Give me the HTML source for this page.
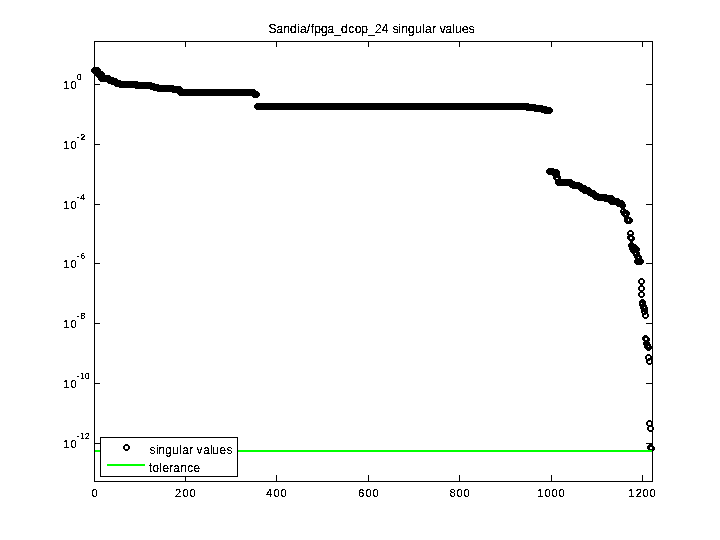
<!DOCTYPE html>
<html><head><meta charset="utf-8"><title>Sandia/fpga_dcop_24 singular values</title>
<style>html,body{margin:0;padding:0;background:#fff;width:720px;height:540px;overflow:hidden}svg{display:block}</style>
</head><body>
<svg width="720" height="540" viewBox="0 0 720 540" shape-rendering="crispEdges">
<rect x="0" y="0" width="720" height="540" fill="#fff"/>
<path d="M119 81 122 81 122 82 123 82 123 83 124 83 124 86 123 86 123 87 122 87 122 88 119 88 119 87 118 87 118 86 117 86 117 83 118 83 118 82 119 82ZM119 83V86H122V83ZM120 81 123 81 123 82 124 82 124 83 125 83 125 86 124 86 124 87 123 87 123 88 120 88 120 87 119 87 119 86 118 86 118 83 119 83 119 82 120 82ZM120 83V86H123V83ZM121 81 124 81 124 82 125 82 125 83 126 83 126 86 125 86 125 87 124 87 124 88 121 88 121 87 120 87 120 86 119 86 119 83 120 83 120 82 121 82ZM121 83V86H124V83ZM122 81 125 81 125 82 126 82 126 83 127 83 127 86 126 86 126 87 125 87 125 88 122 88 122 87 121 87 121 86 120 86 120 83 121 83 121 82 122 82ZM122 83V86H125V83ZM123 81 126 81 126 82 127 82 127 83 128 83 128 86 127 86 127 87 126 87 126 88 123 88 123 87 122 87 122 86 121 86 121 83 122 83 122 82 123 82ZM123 83V86H126V83ZM124 81 127 81 127 82 128 82 128 83 129 83 129 86 128 86 128 87 127 87 127 88 124 88 124 87 123 87 123 86 122 86 122 83 123 83 123 82 124 82ZM124 83V86H127V83ZM125 81 128 81 128 82 129 82 129 83 130 83 130 86 129 86 129 87 128 87 128 88 125 88 125 87 124 87 124 86 123 86 123 83 124 83 124 82 125 82ZM125 83V86H128V83ZM126 81 129 81 129 82 130 82 130 83 131 83 131 86 130 86 130 87 129 87 129 88 126 88 126 87 125 87 125 86 124 86 124 83 125 83 125 82 126 82ZM126 83V86H129V83ZM127 81 130 81 130 82 131 82 131 83 132 83 132 86 131 86 131 87 130 87 130 88 127 88 127 87 126 87 126 86 125 86 125 83 126 83 126 82 127 82ZM127 83V86H130V83ZM128 81 131 81 131 82 132 82 132 83 133 83 133 86 132 86 132 87 131 87 131 88 128 88 128 87 127 87 127 86 126 86 126 83 127 83 127 82 128 82ZM128 83V86H131V83ZM129 81 132 81 132 82 133 82 133 83 134 83 134 86 133 86 133 87 132 87 132 88 129 88 129 87 128 87 128 86 127 86 127 83 128 83 128 82 129 82ZM129 83V86H132V83ZM130 81 133 81 133 82 134 82 134 83 135 83 135 86 134 86 134 87 133 87 133 88 130 88 130 87 129 87 129 86 128 86 128 83 129 83 129 82 130 82ZM130 83V86H133V83ZM131 81 134 81 134 82 135 82 135 83 136 83 136 86 135 86 135 87 134 87 134 88 131 88 131 87 130 87 130 86 129 86 129 83 130 83 130 82 131 82ZM131 83V86H134V83ZM132 81 135 81 135 82 136 82 136 83 137 83 137 86 136 86 136 87 135 87 135 88 132 88 132 87 131 87 131 86 130 86 130 83 131 83 131 82 132 82ZM132 83V86H135V83ZM133 81 136 81 136 82 137 82 137 83 138 83 138 86 137 86 137 87 136 87 136 88 133 88 133 87 132 87 132 86 131 86 131 83 132 83 132 82 133 82ZM133 83V86H136V83ZM134 81 137 81 137 82 138 82 138 83 139 83 139 86 138 86 138 87 137 87 137 88 134 88 134 87 133 87 133 86 132 86 132 83 133 83 133 82 134 82ZM134 83V86H137V83ZM135 81 138 81 138 82 139 82 139 83 140 83 140 86 139 86 139 87 138 87 138 88 135 88 135 87 134 87 134 86 133 86 133 83 134 83 134 82 135 82ZM135 83V86H138V83ZM136 82 139 82 139 83 140 83 140 84 141 84 141 87 140 87 140 88 139 88 139 89 136 89 136 88 135 88 135 87 134 87 134 84 135 84 135 83 136 83ZM136 84V87H139V84ZM137 82 140 82 140 83 141 83 141 84 142 84 142 87 141 87 141 88 140 88 140 89 137 89 137 88 136 88 136 87 135 87 135 84 136 84 136 83 137 83ZM137 84V87H140V84ZM138 82 141 82 141 83 142 83 142 84 143 84 143 87 142 87 142 88 141 88 141 89 138 89 138 88 137 88 137 87 136 87 136 84 137 84 137 83 138 83ZM138 84V87H141V84ZM139 82 142 82 142 83 143 83 143 84 144 84 144 87 143 87 143 88 142 88 142 89 139 89 139 88 138 88 138 87 137 87 137 84 138 84 138 83 139 83ZM139 84V87H142V84ZM140 82 143 82 143 83 144 83 144 84 145 84 145 87 144 87 144 88 143 88 143 89 140 89 140 88 139 88 139 87 138 87 138 84 139 84 139 83 140 83ZM140 84V87H143V84ZM141 82 144 82 144 83 145 83 145 84 146 84 146 87 145 87 145 88 144 88 144 89 141 89 141 88 140 88 140 87 139 87 139 84 140 84 140 83 141 83ZM141 84V87H144V84ZM142 82 145 82 145 83 146 83 146 84 147 84 147 87 146 87 146 88 145 88 145 89 142 89 142 88 141 88 141 87 140 87 140 84 141 84 141 83 142 83ZM142 84V87H145V84ZM143 82 146 82 146 83 147 83 147 84 148 84 148 87 147 87 147 88 146 88 146 89 143 89 143 88 142 88 142 87 141 87 141 84 142 84 142 83 143 83ZM143 84V87H146V84ZM144 82 147 82 147 83 148 83 148 84 149 84 149 87 148 87 148 88 147 88 147 89 144 89 144 88 143 88 143 87 142 87 142 84 143 84 143 83 144 83ZM144 84V87H147V84ZM145 82 148 82 148 83 149 83 149 84 150 84 150 87 149 87 149 88 148 88 148 89 145 89 145 88 144 88 144 87 143 87 143 84 144 84 144 83 145 83ZM145 84V87H148V84ZM146 82 149 82 149 83 150 83 150 84 151 84 151 87 150 87 150 88 149 88 149 89 146 89 146 88 145 88 145 87 144 87 144 84 145 84 145 83 146 83ZM146 84V87H149V84ZM147 82 150 82 150 83 151 83 151 84 152 84 152 87 151 87 151 88 150 88 150 89 147 89 147 88 146 88 146 87 145 87 145 84 146 84 146 83 147 83ZM147 84V87H150V84ZM148 82 151 82 151 83 152 83 152 84 153 84 153 87 152 87 152 88 151 88 151 89 148 89 148 88 147 88 147 87 146 87 146 84 147 84 147 83 148 83ZM148 84V87H151V84ZM149 82 152 82 152 83 153 83 153 84 154 84 154 87 153 87 153 88 152 88 152 89 149 89 149 88 148 88 148 87 147 87 147 84 148 84 148 83 149 83ZM149 84V87H152V84ZM150 83 153 83 153 84 154 84 154 85 155 85 155 88 154 88 154 89 153 89 153 90 150 90 150 89 149 89 149 88 148 88 148 85 149 85 149 84 150 84ZM150 85V88H153V85ZM151 83 154 83 154 84 155 84 155 85 156 85 156 88 155 88 155 89 154 89 154 90 151 90 151 89 150 89 150 88 149 88 149 85 150 85 150 84 151 84ZM151 85V88H154V85ZM152 83 155 83 155 84 156 84 156 85 157 85 157 88 156 88 156 89 155 89 155 90 152 90 152 89 151 89 151 88 150 88 150 85 151 85 151 84 152 84ZM152 85V88H155V85ZM153 84 156 84 156 85 157 85 157 86 158 86 158 89 157 89 157 90 156 90 156 91 153 91 153 90 152 90 152 89 151 89 151 86 152 86 152 85 153 85ZM153 86V89H156V86ZM154 84 157 84 157 85 158 85 158 86 159 86 159 89 158 89 158 90 157 90 157 91 154 91 154 90 153 90 153 89 152 89 152 86 153 86 153 85 154 85ZM154 86V89H157V86ZM155 84 158 84 158 85 159 85 159 86 160 86 160 89 159 89 159 90 158 90 158 91 155 91 155 90 154 90 154 89 153 89 153 86 154 86 154 85 155 85ZM155 86V89H158V86ZM156 84 159 84 159 85 160 85 160 86 161 86 161 89 160 89 160 90 159 90 159 91 156 91 156 90 155 90 155 89 154 89 154 86 155 86 155 85 156 85ZM156 86V89H159V86ZM157 85 160 85 160 86 161 86 161 87 162 87 162 90 161 90 161 91 160 91 160 92 157 92 157 91 156 91 156 90 155 90 155 87 156 87 156 86 157 86ZM157 87V90H160V87ZM158 85 161 85 161 86 162 86 162 87 163 87 163 90 162 90 162 91 161 91 161 92 158 92 158 91 157 91 157 90 156 90 156 87 157 87 157 86 158 86ZM158 87V90H161V87ZM159 85 162 85 162 86 163 86 163 87 164 87 164 90 163 90 163 91 162 91 162 92 159 92 159 91 158 91 158 90 157 90 157 87 158 87 158 86 159 86ZM159 87V90H162V87ZM160 85 163 85 163 86 164 86 164 87 165 87 165 90 164 90 164 91 163 91 163 92 160 92 160 91 159 91 159 90 158 90 158 87 159 87 159 86 160 86ZM160 87V90H163V87ZM161 85 164 85 164 86 165 86 165 87 166 87 166 90 165 90 165 91 164 91 164 92 161 92 161 91 160 91 160 90 159 90 159 87 160 87 160 86 161 86ZM161 87V90H164V87ZM162 85 165 85 165 86 166 86 166 87 167 87 167 90 166 90 166 91 165 91 165 92 162 92 162 91 161 91 161 90 160 90 160 87 161 87 161 86 162 86ZM162 87V90H165V87ZM163 85 166 85 166 86 167 86 167 87 168 87 168 90 167 90 167 91 166 91 166 92 163 92 163 91 162 91 162 90 161 90 161 87 162 87 162 86 163 86ZM163 87V90H166V87ZM164 85 167 85 167 86 168 86 168 87 169 87 169 90 168 90 168 91 167 91 167 92 164 92 164 91 163 91 163 90 162 90 162 87 163 87 163 86 164 86ZM164 87V90H167V87ZM165 85 168 85 168 86 169 86 169 87 170 87 170 90 169 90 169 91 168 91 168 92 165 92 165 91 164 91 164 90 163 90 163 87 164 87 164 86 165 86ZM165 87V90H168V87ZM166 85 169 85 169 86 170 86 170 87 171 87 171 90 170 90 170 91 169 91 169 92 166 92 166 91 165 91 165 90 164 90 164 87 165 87 165 86 166 86ZM166 87V90H169V87ZM167 85 170 85 170 86 171 86 171 87 172 87 172 90 171 90 171 91 170 91 170 92 167 92 167 91 166 91 166 90 165 90 165 87 166 87 166 86 167 86ZM167 87V90H170V87ZM168 85 171 85 171 86 172 86 172 87 173 87 173 90 172 90 172 91 171 91 171 92 168 92 168 91 167 91 167 90 166 90 166 87 167 87 167 86 168 86ZM168 87V90H171V87ZM169 85 172 85 172 86 173 86 173 87 174 87 174 90 173 90 173 91 172 91 172 92 169 92 169 91 168 91 168 90 167 90 167 87 168 87 168 86 169 86ZM169 87V90H172V87ZM170 85 173 85 173 86 174 86 174 87 175 87 175 90 174 90 174 91 173 91 173 92 170 92 170 91 169 91 169 90 168 90 168 87 169 87 169 86 170 86ZM170 87V90H173V87ZM171 85 174 85 174 86 175 86 175 87 176 87 176 90 175 90 175 91 174 91 174 92 171 92 171 91 170 91 170 90 169 90 169 87 170 87 170 86 171 86ZM171 87V90H174V87ZM172 86 175 86 175 87 176 87 176 88 177 88 177 91 176 91 176 92 175 92 175 93 172 93 172 92 171 92 171 91 170 91 170 88 171 88 171 87 172 87ZM172 88V91H175V88ZM173 86 176 86 176 87 177 87 177 88 178 88 178 91 177 91 177 92 176 92 176 93 173 93 173 92 172 92 172 91 171 91 171 88 172 88 172 87 173 87ZM173 88V91H176V88ZM174 86 177 86 177 87 178 87 178 88 179 88 179 91 178 91 178 92 177 92 177 93 174 93 174 92 173 92 173 91 172 91 172 88 173 88 173 87 174 87ZM174 88V91H177V88ZM175 86 178 86 178 87 179 87 179 88 180 88 180 91 179 91 179 92 178 92 178 93 175 93 175 92 174 92 174 91 173 91 173 88 174 88 174 87 175 87ZM175 88V91H178V88ZM176 86 179 86 179 87 180 87 180 88 181 88 181 91 180 91 180 92 179 92 179 93 176 93 176 92 175 92 175 91 174 91 174 88 175 88 175 87 176 87ZM176 88V91H179V88ZM177 86 180 86 180 87 181 87 181 88 182 88 182 91 181 91 181 92 180 92 180 93 177 93 177 92 176 92 176 91 175 91 175 88 176 88 176 87 177 87ZM177 88V91H180V88ZM178 86 181 86 181 87 182 87 182 88 183 88 183 91 182 91 182 92 181 92 181 93 178 93 178 92 177 92 177 91 176 91 176 88 177 88 177 87 178 87ZM178 88V91H181V88ZM179 89 182 89 182 90 183 90 183 91 184 91 184 94 183 94 183 95 182 95 182 96 179 96 179 95 178 95 178 94 177 94 177 91 178 91 178 90 179 90ZM179 91V94H182V91ZM180 89 183 89 183 90 184 90 184 91 185 91 185 94 184 94 184 95 183 95 183 96 180 96 180 95 179 95 179 94 178 94 178 91 179 91 179 90 180 90ZM180 91V94H183V91ZM181 89 184 89 184 90 185 90 185 91 186 91 186 94 185 94 185 95 184 95 184 96 181 96 181 95 180 95 180 94 179 94 179 91 180 91 180 90 181 90ZM181 91V94H184V91ZM182 89 185 89 185 90 186 90 186 91 187 91 187 94 186 94 186 95 185 95 185 96 182 96 182 95 181 95 181 94 180 94 180 91 181 91 181 90 182 90ZM182 91V94H185V91ZM183 89 186 89 186 90 187 90 187 91 188 91 188 94 187 94 187 95 186 95 186 96 183 96 183 95 182 95 182 94 181 94 181 91 182 91 182 90 183 90ZM183 91V94H186V91ZM184 89 187 89 187 90 188 90 188 91 189 91 189 94 188 94 188 95 187 95 187 96 184 96 184 95 183 95 183 94 182 94 182 91 183 91 183 90 184 90ZM184 91V94H187V91ZM185 89 188 89 188 90 189 90 189 91 190 91 190 94 189 94 189 95 188 95 188 96 185 96 185 95 184 95 184 94 183 94 183 91 184 91 184 90 185 90ZM185 91V94H188V91ZM186 89 189 89 189 90 190 90 190 91 191 91 191 94 190 94 190 95 189 95 189 96 186 96 186 95 185 95 185 94 184 94 184 91 185 91 185 90 186 90ZM186 91V94H189V91ZM187 89 190 89 190 90 191 90 191 91 192 91 192 94 191 94 191 95 190 95 190 96 187 96 187 95 186 95 186 94 185 94 185 91 186 91 186 90 187 90ZM187 91V94H190V91ZM188 89 191 89 191 90 192 90 192 91 193 91 193 94 192 94 192 95 191 95 191 96 188 96 188 95 187 95 187 94 186 94 186 91 187 91 187 90 188 90ZM188 91V94H191V91ZM189 89 192 89 192 90 193 90 193 91 194 91 194 94 193 94 193 95 192 95 192 96 189 96 189 95 188 95 188 94 187 94 187 91 188 91 188 90 189 90ZM189 91V94H192V91ZM190 89 193 89 193 90 194 90 194 91 195 91 195 94 194 94 194 95 193 95 193 96 190 96 190 95 189 95 189 94 188 94 188 91 189 91 189 90 190 90ZM190 91V94H193V91ZM191 89 194 89 194 90 195 90 195 91 196 91 196 94 195 94 195 95 194 95 194 96 191 96 191 95 190 95 190 94 189 94 189 91 190 91 190 90 191 90ZM191 91V94H194V91ZM192 89 195 89 195 90 196 90 196 91 197 91 197 94 196 94 196 95 195 95 195 96 192 96 192 95 191 95 191 94 190 94 190 91 191 91 191 90 192 90ZM192 91V94H195V91ZM193 89 196 89 196 90 197 90 197 91 198 91 198 94 197 94 197 95 196 95 196 96 193 96 193 95 192 95 192 94 191 94 191 91 192 91 192 90 193 90ZM193 91V94H196V91ZM194 89 197 89 197 90 198 90 198 91 199 91 199 94 198 94 198 95 197 95 197 96 194 96 194 95 193 95 193 94 192 94 192 91 193 91 193 90 194 90ZM194 91V94H197V91ZM195 89 198 89 198 90 199 90 199 91 200 91 200 94 199 94 199 95 198 95 198 96 195 96 195 95 194 95 194 94 193 94 193 91 194 91 194 90 195 90ZM195 91V94H198V91ZM196 89 199 89 199 90 200 90 200 91 201 91 201 94 200 94 200 95 199 95 199 96 196 96 196 95 195 95 195 94 194 94 194 91 195 91 195 90 196 90ZM196 91V94H199V91ZM197 89 200 89 200 90 201 90 201 91 202 91 202 94 201 94 201 95 200 95 200 96 197 96 197 95 196 95 196 94 195 94 195 91 196 91 196 90 197 90ZM197 91V94H200V91ZM198 89 201 89 201 90 202 90 202 91 203 91 203 94 202 94 202 95 201 95 201 96 198 96 198 95 197 95 197 94 196 94 196 91 197 91 197 90 198 90ZM198 91V94H201V91ZM199 89 202 89 202 90 203 90 203 91 204 91 204 94 203 94 203 95 202 95 202 96 199 96 199 95 198 95 198 94 197 94 197 91 198 91 198 90 199 90ZM199 91V94H202V91ZM200 89 203 89 203 90 204 90 204 91 205 91 205 94 204 94 204 95 203 95 203 96 200 96 200 95 199 95 199 94 198 94 198 91 199 91 199 90 200 90ZM200 91V94H203V91ZM201 89 204 89 204 90 205 90 205 91 206 91 206 94 205 94 205 95 204 95 204 96 201 96 201 95 200 95 200 94 199 94 199 91 200 91 200 90 201 90ZM201 91V94H204V91ZM202 89 205 89 205 90 206 90 206 91 207 91 207 94 206 94 206 95 205 95 205 96 202 96 202 95 201 95 201 94 200 94 200 91 201 91 201 90 202 90ZM202 91V94H205V91ZM203 89 206 89 206 90 207 90 207 91 208 91 208 94 207 94 207 95 206 95 206 96 203 96 203 95 202 95 202 94 201 94 201 91 202 91 202 90 203 90ZM203 91V94H206V91ZM204 89 207 89 207 90 208 90 208 91 209 91 209 94 208 94 208 95 207 95 207 96 204 96 204 95 203 95 203 94 202 94 202 91 203 91 203 90 204 90ZM204 91V94H207V91ZM205 89 208 89 208 90 209 90 209 91 210 91 210 94 209 94 209 95 208 95 208 96 205 96 205 95 204 95 204 94 203 94 203 91 204 91 204 90 205 90ZM205 91V94H208V91ZM206 89 209 89 209 90 210 90 210 91 211 91 211 94 210 94 210 95 209 95 209 96 206 96 206 95 205 95 205 94 204 94 204 91 205 91 205 90 206 90ZM206 91V94H209V91ZM207 89 210 89 210 90 211 90 211 91 212 91 212 94 211 94 211 95 210 95 210 96 207 96 207 95 206 95 206 94 205 94 205 91 206 91 206 90 207 90ZM207 91V94H210V91ZM208 89 211 89 211 90 212 90 212 91 213 91 213 94 212 94 212 95 211 95 211 96 208 96 208 95 207 95 207 94 206 94 206 91 207 91 207 90 208 90ZM208 91V94H211V91ZM209 89 212 89 212 90 213 90 213 91 214 91 214 94 213 94 213 95 212 95 212 96 209 96 209 95 208 95 208 94 207 94 207 91 208 91 208 90 209 90ZM209 91V94H212V91ZM210 89 213 89 213 90 214 90 214 91 215 91 215 94 214 94 214 95 213 95 213 96 210 96 210 95 209 95 209 94 208 94 208 91 209 91 209 90 210 90ZM210 91V94H213V91ZM211 89 214 89 214 90 215 90 215 91 216 91 216 94 215 94 215 95 214 95 214 96 211 96 211 95 210 95 210 94 209 94 209 91 210 91 210 90 211 90ZM211 91V94H214V91ZM212 89 215 89 215 90 216 90 216 91 217 91 217 94 216 94 216 95 215 95 215 96 212 96 212 95 211 95 211 94 210 94 210 91 211 91 211 90 212 90ZM212 91V94H215V91ZM213 89 216 89 216 90 217 90 217 91 218 91 218 94 217 94 217 95 216 95 216 96 213 96 213 95 212 95 212 94 211 94 211 91 212 91 212 90 213 90ZM213 91V94H216V91ZM214 89 217 89 217 90 218 90 218 91 219 91 219 94 218 94 218 95 217 95 217 96 214 96 214 95 213 95 213 94 212 94 212 91 213 91 213 90 214 90ZM214 91V94H217V91ZM215 89 218 89 218 90 219 90 219 91 220 91 220 94 219 94 219 95 218 95 218 96 215 96 215 95 214 95 214 94 213 94 213 91 214 91 214 90 215 90ZM215 91V94H218V91ZM216 89 219 89 219 90 220 90 220 91 221 91 221 94 220 94 220 95 219 95 219 96 216 96 216 95 215 95 215 94 214 94 214 91 215 91 215 90 216 90ZM216 91V94H219V91ZM217 89 220 89 220 90 221 90 221 91 222 91 222 94 221 94 221 95 220 95 220 96 217 96 217 95 216 95 216 94 215 94 215 91 216 91 216 90 217 90ZM217 91V94H220V91ZM218 89 221 89 221 90 222 90 222 91 223 91 223 94 222 94 222 95 221 95 221 96 218 96 218 95 217 95 217 94 216 94 216 91 217 91 217 90 218 90ZM218 91V94H221V91ZM219 89 222 89 222 90 223 90 223 91 224 91 224 94 223 94 223 95 222 95 222 96 219 96 219 95 218 95 218 94 217 94 217 91 218 91 218 90 219 90ZM219 91V94H222V91ZM220 89 223 89 223 90 224 90 224 91 225 91 225 94 224 94 224 95 223 95 223 96 220 96 220 95 219 95 219 94 218 94 218 91 219 91 219 90 220 90ZM220 91V94H223V91ZM221 89 224 89 224 90 225 90 225 91 226 91 226 94 225 94 225 95 224 95 224 96 221 96 221 95 220 95 220 94 219 94 219 91 220 91 220 90 221 90ZM221 91V94H224V91ZM222 89 225 89 225 90 226 90 226 91 227 91 227 94 226 94 226 95 225 95 225 96 222 96 222 95 221 95 221 94 220 94 220 91 221 91 221 90 222 90ZM222 91V94H225V91ZM223 89 226 89 226 90 227 90 227 91 228 91 228 94 227 94 227 95 226 95 226 96 223 96 223 95 222 95 222 94 221 94 221 91 222 91 222 90 223 90ZM223 91V94H226V91ZM224 89 227 89 227 90 228 90 228 91 229 91 229 94 228 94 228 95 227 95 227 96 224 96 224 95 223 95 223 94 222 94 222 91 223 91 223 90 224 90ZM224 91V94H227V91ZM225 89 228 89 228 90 229 90 229 91 230 91 230 94 229 94 229 95 228 95 228 96 225 96 225 95 224 95 224 94 223 94 223 91 224 91 224 90 225 90ZM225 91V94H228V91ZM226 89 229 89 229 90 230 90 230 91 231 91 231 94 230 94 230 95 229 95 229 96 226 96 226 95 225 95 225 94 224 94 224 91 225 91 225 90 226 90ZM226 91V94H229V91ZM227 89 230 89 230 90 231 90 231 91 232 91 232 94 231 94 231 95 230 95 230 96 227 96 227 95 226 95 226 94 225 94 225 91 226 91 226 90 227 90ZM227 91V94H230V91ZM228 89 231 89 231 90 232 90 232 91 233 91 233 94 232 94 232 95 231 95 231 96 228 96 228 95 227 95 227 94 226 94 226 91 227 91 227 90 228 90ZM228 91V94H231V91ZM229 89 232 89 232 90 233 90 233 91 234 91 234 94 233 94 233 95 232 95 232 96 229 96 229 95 228 95 228 94 227 94 227 91 228 91 228 90 229 90ZM229 91V94H232V91ZM230 89 233 89 233 90 234 90 234 91 235 91 235 94 234 94 234 95 233 95 233 96 230 96 230 95 229 95 229 94 228 94 228 91 229 91 229 90 230 90ZM230 91V94H233V91ZM231 89 234 89 234 90 235 90 235 91 236 91 236 94 235 94 235 95 234 95 234 96 231 96 231 95 230 95 230 94 229 94 229 91 230 91 230 90 231 90ZM231 91V94H234V91ZM232 89 235 89 235 90 236 90 236 91 237 91 237 94 236 94 236 95 235 95 235 96 232 96 232 95 231 95 231 94 230 94 230 91 231 91 231 90 232 90ZM232 91V94H235V91ZM233 89 236 89 236 90 237 90 237 91 238 91 238 94 237 94 237 95 236 95 236 96 233 96 233 95 232 95 232 94 231 94 231 91 232 91 232 90 233 90ZM233 91V94H236V91ZM234 89 237 89 237 90 238 90 238 91 239 91 239 94 238 94 238 95 237 95 237 96 234 96 234 95 233 95 233 94 232 94 232 91 233 91 233 90 234 90ZM234 91V94H237V91ZM235 89 238 89 238 90 239 90 239 91 240 91 240 94 239 94 239 95 238 95 238 96 235 96 235 95 234 95 234 94 233 94 233 91 234 91 234 90 235 90ZM235 91V94H238V91ZM236 89 239 89 239 90 240 90 240 91 241 91 241 94 240 94 240 95 239 95 239 96 236 96 236 95 235 95 235 94 234 94 234 91 235 91 235 90 236 90ZM236 91V94H239V91ZM237 89 240 89 240 90 241 90 241 91 242 91 242 94 241 94 241 95 240 95 240 96 237 96 237 95 236 95 236 94 235 94 235 91 236 91 236 90 237 90ZM237 91V94H240V91ZM238 89 241 89 241 90 242 90 242 91 243 91 243 94 242 94 242 95 241 95 241 96 238 96 238 95 237 95 237 94 236 94 236 91 237 91 237 90 238 90ZM238 91V94H241V91ZM239 89 242 89 242 90 243 90 243 91 244 91 244 94 243 94 243 95 242 95 242 96 239 96 239 95 238 95 238 94 237 94 237 91 238 91 238 90 239 90ZM239 91V94H242V91ZM240 89 243 89 243 90 244 90 244 91 245 91 245 94 244 94 244 95 243 95 243 96 240 96 240 95 239 95 239 94 238 94 238 91 239 91 239 90 240 90ZM240 91V94H243V91ZM241 89 244 89 244 90 245 90 245 91 246 91 246 94 245 94 245 95 244 95 244 96 241 96 241 95 240 95 240 94 239 94 239 91 240 91 240 90 241 90ZM241 91V94H244V91ZM242 89 245 89 245 90 246 90 246 91 247 91 247 94 246 94 246 95 245 95 245 96 242 96 242 95 241 95 241 94 240 94 240 91 241 91 241 90 242 90ZM242 91V94H245V91ZM243 89 246 89 246 90 247 90 247 91 248 91 248 94 247 94 247 95 246 95 246 96 243 96 243 95 242 95 242 94 241 94 241 91 242 91 242 90 243 90ZM243 91V94H246V91ZM244 89 247 89 247 90 248 90 248 91 249 91 249 94 248 94 248 95 247 95 247 96 244 96 244 95 243 95 243 94 242 94 242 91 243 91 243 90 244 90ZM244 91V94H247V91ZM245 89 248 89 248 90 249 90 249 91 250 91 250 94 249 94 249 95 248 95 248 96 245 96 245 95 244 95 244 94 243 94 243 91 244 91 244 90 245 90ZM245 91V94H248V91ZM246 89 249 89 249 90 250 90 250 91 251 91 251 94 250 94 250 95 249 95 249 96 246 96 246 95 245 95 245 94 244 94 244 91 245 91 245 90 246 90ZM246 91V94H249V91ZM247 89 250 89 250 90 251 90 251 91 252 91 252 94 251 94 251 95 250 95 250 96 247 96 247 95 246 95 246 94 245 94 245 91 246 91 246 90 247 90ZM247 91V94H250V91ZM248 89 251 89 251 90 252 90 252 91 253 91 253 94 252 94 252 95 251 95 251 96 248 96 248 95 247 95 247 94 246 94 246 91 247 91 247 90 248 90ZM248 91V94H251V91ZM249 89 252 89 252 90 253 90 253 91 254 91 254 94 253 94 253 95 252 95 252 96 249 96 249 95 248 95 248 94 247 94 247 91 248 91 248 90 249 90ZM249 91V94H252V91ZM250 89 253 89 253 90 254 90 254 91 255 91 255 94 254 94 254 95 253 95 253 96 250 96 250 95 249 95 249 94 248 94 248 91 249 91 249 90 250 90ZM250 91V94H253V91ZM251 89 254 89 254 90 255 90 255 91 256 91 256 94 255 94 255 95 254 95 254 96 251 96 251 95 250 95 250 94 249 94 249 91 250 91 250 90 251 90ZM251 91V94H254V91ZM252 89 255 89 255 90 256 90 256 91 257 91 257 94 256 94 256 95 255 95 255 96 252 96 252 95 251 95 251 94 250 94 250 91 251 91 251 90 252 90ZM252 91V94H255V91ZM253 91 256 91 256 92 257 92 257 93 258 93 258 96 257 96 257 97 256 97 256 98 253 98 253 97 252 97 252 96 251 96 251 93 252 93 252 92 253 92ZM253 93V96H256V93ZM254 91 257 91 257 92 258 92 258 93 259 93 259 96 258 96 258 97 257 97 257 98 254 98 254 97 253 97 253 96 252 96 252 93 253 93 253 92 254 92ZM254 93V96H257V93ZM255 91 258 91 258 92 259 92 259 93 260 93 260 96 259 96 259 97 258 97 258 98 255 98 255 97 254 97 254 96 253 96 253 93 254 93 254 92 255 92ZM255 93V96H258V93ZM256 103 259 103 259 104 260 104 260 105 261 105 261 108 260 108 260 109 259 109 259 110 256 110 256 109 255 109 255 108 254 108 254 105 255 105 255 104 256 104ZM256 105V108H259V105ZM257 103 260 103 260 104 261 104 261 105 262 105 262 108 261 108 261 109 260 109 260 110 257 110 257 109 256 109 256 108 255 108 255 105 256 105 256 104 257 104ZM257 105V108H260V105ZM258 103 261 103 261 104 262 104 262 105 263 105 263 108 262 108 262 109 261 109 261 110 258 110 258 109 257 109 257 108 256 108 256 105 257 105 257 104 258 104ZM258 105V108H261V105ZM259 103 262 103 262 104 263 104 263 105 264 105 264 108 263 108 263 109 262 109 262 110 259 110 259 109 258 109 258 108 257 108 257 105 258 105 258 104 259 104ZM259 105V108H262V105ZM260 103 263 103 263 104 264 104 264 105 265 105 265 108 264 108 264 109 263 109 263 110 260 110 260 109 259 109 259 108 258 108 258 105 259 105 259 104 260 104ZM260 105V108H263V105ZM261 103 264 103 264 104 265 104 265 105 266 105 266 108 265 108 265 109 264 109 264 110 261 110 261 109 260 109 260 108 259 108 259 105 260 105 260 104 261 104ZM261 105V108H264V105ZM262 103 265 103 265 104 266 104 266 105 267 105 267 108 266 108 266 109 265 109 265 110 262 110 262 109 261 109 261 108 260 108 260 105 261 105 261 104 262 104ZM262 105V108H265V105ZM263 103 266 103 266 104 267 104 267 105 268 105 268 108 267 108 267 109 266 109 266 110 263 110 263 109 262 109 262 108 261 108 261 105 262 105 262 104 263 104ZM263 105V108H266V105ZM264 103 267 103 267 104 268 104 268 105 269 105 269 108 268 108 268 109 267 109 267 110 264 110 264 109 263 109 263 108 262 108 262 105 263 105 263 104 264 104ZM264 105V108H267V105ZM265 103 268 103 268 104 269 104 269 105 270 105 270 108 269 108 269 109 268 109 268 110 265 110 265 109 264 109 264 108 263 108 263 105 264 105 264 104 265 104ZM265 105V108H268V105ZM266 103 269 103 269 104 270 104 270 105 271 105 271 108 270 108 270 109 269 109 269 110 266 110 266 109 265 109 265 108 264 108 264 105 265 105 265 104 266 104ZM266 105V108H269V105ZM267 103 270 103 270 104 271 104 271 105 272 105 272 108 271 108 271 109 270 109 270 110 267 110 267 109 266 109 266 108 265 108 265 105 266 105 266 104 267 104ZM267 105V108H270V105ZM268 103 271 103 271 104 272 104 272 105 273 105 273 108 272 108 272 109 271 109 271 110 268 110 268 109 267 109 267 108 266 108 266 105 267 105 267 104 268 104ZM268 105V108H271V105ZM269 103 272 103 272 104 273 104 273 105 274 105 274 108 273 108 273 109 272 109 272 110 269 110 269 109 268 109 268 108 267 108 267 105 268 105 268 104 269 104ZM269 105V108H272V105ZM270 103 273 103 273 104 274 104 274 105 275 105 275 108 274 108 274 109 273 109 273 110 270 110 270 109 269 109 269 108 268 108 268 105 269 105 269 104 270 104ZM270 105V108H273V105ZM271 103 274 103 274 104 275 104 275 105 276 105 276 108 275 108 275 109 274 109 274 110 271 110 271 109 270 109 270 108 269 108 269 105 270 105 270 104 271 104ZM271 105V108H274V105ZM272 103 275 103 275 104 276 104 276 105 277 105 277 108 276 108 276 109 275 109 275 110 272 110 272 109 271 109 271 108 270 108 270 105 271 105 271 104 272 104ZM272 105V108H275V105ZM273 103 276 103 276 104 277 104 277 105 278 105 278 108 277 108 277 109 276 109 276 110 273 110 273 109 272 109 272 108 271 108 271 105 272 105 272 104 273 104ZM273 105V108H276V105ZM274 103 277 103 277 104 278 104 278 105 279 105 279 108 278 108 278 109 277 109 277 110 274 110 274 109 273 109 273 108 272 108 272 105 273 105 273 104 274 104ZM274 105V108H277V105ZM275 103 278 103 278 104 279 104 279 105 280 105 280 108 279 108 279 109 278 109 278 110 275 110 275 109 274 109 274 108 273 108 273 105 274 105 274 104 275 104ZM275 105V108H278V105ZM276 103 279 103 279 104 280 104 280 105 281 105 281 108 280 108 280 109 279 109 279 110 276 110 276 109 275 109 275 108 274 108 274 105 275 105 275 104 276 104ZM276 105V108H279V105ZM277 103 280 103 280 104 281 104 281 105 282 105 282 108 281 108 281 109 280 109 280 110 277 110 277 109 276 109 276 108 275 108 275 105 276 105 276 104 277 104ZM277 105V108H280V105ZM278 103 281 103 281 104 282 104 282 105 283 105 283 108 282 108 282 109 281 109 281 110 278 110 278 109 277 109 277 108 276 108 276 105 277 105 277 104 278 104ZM278 105V108H281V105ZM279 103 282 103 282 104 283 104 283 105 284 105 284 108 283 108 283 109 282 109 282 110 279 110 279 109 278 109 278 108 277 108 277 105 278 105 278 104 279 104ZM279 105V108H282V105ZM280 103 283 103 283 104 284 104 284 105 285 105 285 108 284 108 284 109 283 109 283 110 280 110 280 109 279 109 279 108 278 108 278 105 279 105 279 104 280 104ZM280 105V108H283V105ZM281 103 284 103 284 104 285 104 285 105 286 105 286 108 285 108 285 109 284 109 284 110 281 110 281 109 280 109 280 108 279 108 279 105 280 105 280 104 281 104ZM281 105V108H284V105ZM282 103 285 103 285 104 286 104 286 105 287 105 287 108 286 108 286 109 285 109 285 110 282 110 282 109 281 109 281 108 280 108 280 105 281 105 281 104 282 104ZM282 105V108H285V105ZM283 103 286 103 286 104 287 104 287 105 288 105 288 108 287 108 287 109 286 109 286 110 283 110 283 109 282 109 282 108 281 108 281 105 282 105 282 104 283 104ZM283 105V108H286V105ZM284 103 287 103 287 104 288 104 288 105 289 105 289 108 288 108 288 109 287 109 287 110 284 110 284 109 283 109 283 108 282 108 282 105 283 105 283 104 284 104ZM284 105V108H287V105ZM285 103 288 103 288 104 289 104 289 105 290 105 290 108 289 108 289 109 288 109 288 110 285 110 285 109 284 109 284 108 283 108 283 105 284 105 284 104 285 104ZM285 105V108H288V105ZM286 103 289 103 289 104 290 104 290 105 291 105 291 108 290 108 290 109 289 109 289 110 286 110 286 109 285 109 285 108 284 108 284 105 285 105 285 104 286 104ZM286 105V108H289V105ZM287 103 290 103 290 104 291 104 291 105 292 105 292 108 291 108 291 109 290 109 290 110 287 110 287 109 286 109 286 108 285 108 285 105 286 105 286 104 287 104ZM287 105V108H290V105ZM288 103 291 103 291 104 292 104 292 105 293 105 293 108 292 108 292 109 291 109 291 110 288 110 288 109 287 109 287 108 286 108 286 105 287 105 287 104 288 104ZM288 105V108H291V105ZM289 103 292 103 292 104 293 104 293 105 294 105 294 108 293 108 293 109 292 109 292 110 289 110 289 109 288 109 288 108 287 108 287 105 288 105 288 104 289 104ZM289 105V108H292V105ZM290 103 293 103 293 104 294 104 294 105 295 105 295 108 294 108 294 109 293 109 293 110 290 110 290 109 289 109 289 108 288 108 288 105 289 105 289 104 290 104ZM290 105V108H293V105ZM291 103 294 103 294 104 295 104 295 105 296 105 296 108 295 108 295 109 294 109 294 110 291 110 291 109 290 109 290 108 289 108 289 105 290 105 290 104 291 104ZM291 105V108H294V105ZM292 103 295 103 295 104 296 104 296 105 297 105 297 108 296 108 296 109 295 109 295 110 292 110 292 109 291 109 291 108 290 108 290 105 291 105 291 104 292 104ZM292 105V108H295V105ZM293 103 296 103 296 104 297 104 297 105 298 105 298 108 297 108 297 109 296 109 296 110 293 110 293 109 292 109 292 108 291 108 291 105 292 105 292 104 293 104ZM293 105V108H296V105ZM294 103 297 103 297 104 298 104 298 105 299 105 299 108 298 108 298 109 297 109 297 110 294 110 294 109 293 109 293 108 292 108 292 105 293 105 293 104 294 104ZM294 105V108H297V105ZM295 103 298 103 298 104 299 104 299 105 300 105 300 108 299 108 299 109 298 109 298 110 295 110 295 109 294 109 294 108 293 108 293 105 294 105 294 104 295 104ZM295 105V108H298V105ZM296 103 299 103 299 104 300 104 300 105 301 105 301 108 300 108 300 109 299 109 299 110 296 110 296 109 295 109 295 108 294 108 294 105 295 105 295 104 296 104ZM296 105V108H299V105ZM297 103 300 103 300 104 301 104 301 105 302 105 302 108 301 108 301 109 300 109 300 110 297 110 297 109 296 109 296 108 295 108 295 105 296 105 296 104 297 104ZM297 105V108H300V105ZM298 103 301 103 301 104 302 104 302 105 303 105 303 108 302 108 302 109 301 109 301 110 298 110 298 109 297 109 297 108 296 108 296 105 297 105 297 104 298 104ZM298 105V108H301V105ZM299 103 302 103 302 104 303 104 303 105 304 105 304 108 303 108 303 109 302 109 302 110 299 110 299 109 298 109 298 108 297 108 297 105 298 105 298 104 299 104ZM299 105V108H302V105ZM300 103 303 103 303 104 304 104 304 105 305 105 305 108 304 108 304 109 303 109 303 110 300 110 300 109 299 109 299 108 298 108 298 105 299 105 299 104 300 104ZM300 105V108H303V105ZM301 103 304 103 304 104 305 104 305 105 306 105 306 108 305 108 305 109 304 109 304 110 301 110 301 109 300 109 300 108 299 108 299 105 300 105 300 104 301 104ZM301 105V108H304V105ZM302 103 305 103 305 104 306 104 306 105 307 105 307 108 306 108 306 109 305 109 305 110 302 110 302 109 301 109 301 108 300 108 300 105 301 105 301 104 302 104ZM302 105V108H305V105ZM303 103 306 103 306 104 307 104 307 105 308 105 308 108 307 108 307 109 306 109 306 110 303 110 303 109 302 109 302 108 301 108 301 105 302 105 302 104 303 104ZM303 105V108H306V105ZM304 103 307 103 307 104 308 104 308 105 309 105 309 108 308 108 308 109 307 109 307 110 304 110 304 109 303 109 303 108 302 108 302 105 303 105 303 104 304 104ZM304 105V108H307V105ZM305 103 308 103 308 104 309 104 309 105 310 105 310 108 309 108 309 109 308 109 308 110 305 110 305 109 304 109 304 108 303 108 303 105 304 105 304 104 305 104ZM305 105V108H308V105ZM306 103 309 103 309 104 310 104 310 105 311 105 311 108 310 108 310 109 309 109 309 110 306 110 306 109 305 109 305 108 304 108 304 105 305 105 305 104 306 104ZM306 105V108H309V105ZM307 103 310 103 310 104 311 104 311 105 312 105 312 108 311 108 311 109 310 109 310 110 307 110 307 109 306 109 306 108 305 108 305 105 306 105 306 104 307 104ZM307 105V108H310V105ZM308 103 311 103 311 104 312 104 312 105 313 105 313 108 312 108 312 109 311 109 311 110 308 110 308 109 307 109 307 108 306 108 306 105 307 105 307 104 308 104ZM308 105V108H311V105ZM309 103 312 103 312 104 313 104 313 105 314 105 314 108 313 108 313 109 312 109 312 110 309 110 309 109 308 109 308 108 307 108 307 105 308 105 308 104 309 104ZM309 105V108H312V105ZM310 103 313 103 313 104 314 104 314 105 315 105 315 108 314 108 314 109 313 109 313 110 310 110 310 109 309 109 309 108 308 108 308 105 309 105 309 104 310 104ZM310 105V108H313V105ZM311 103 314 103 314 104 315 104 315 105 316 105 316 108 315 108 315 109 314 109 314 110 311 110 311 109 310 109 310 108 309 108 309 105 310 105 310 104 311 104ZM311 105V108H314V105ZM312 103 315 103 315 104 316 104 316 105 317 105 317 108 316 108 316 109 315 109 315 110 312 110 312 109 311 109 311 108 310 108 310 105 311 105 311 104 312 104ZM312 105V108H315V105ZM313 103 316 103 316 104 317 104 317 105 318 105 318 108 317 108 317 109 316 109 316 110 313 110 313 109 312 109 312 108 311 108 311 105 312 105 312 104 313 104ZM313 105V108H316V105ZM314 103 317 103 317 104 318 104 318 105 319 105 319 108 318 108 318 109 317 109 317 110 314 110 314 109 313 109 313 108 312 108 312 105 313 105 313 104 314 104ZM314 105V108H317V105ZM315 103 318 103 318 104 319 104 319 105 320 105 320 108 319 108 319 109 318 109 318 110 315 110 315 109 314 109 314 108 313 108 313 105 314 105 314 104 315 104ZM315 105V108H318V105ZM316 103 319 103 319 104 320 104 320 105 321 105 321 108 320 108 320 109 319 109 319 110 316 110 316 109 315 109 315 108 314 108 314 105 315 105 315 104 316 104ZM316 105V108H319V105ZM317 103 320 103 320 104 321 104 321 105 322 105 322 108 321 108 321 109 320 109 320 110 317 110 317 109 316 109 316 108 315 108 315 105 316 105 316 104 317 104ZM317 105V108H320V105ZM318 103 321 103 321 104 322 104 322 105 323 105 323 108 322 108 322 109 321 109 321 110 318 110 318 109 317 109 317 108 316 108 316 105 317 105 317 104 318 104ZM318 105V108H321V105ZM319 103 322 103 322 104 323 104 323 105 324 105 324 108 323 108 323 109 322 109 322 110 319 110 319 109 318 109 318 108 317 108 317 105 318 105 318 104 319 104ZM319 105V108H322V105ZM320 103 323 103 323 104 324 104 324 105 325 105 325 108 324 108 324 109 323 109 323 110 320 110 320 109 319 109 319 108 318 108 318 105 319 105 319 104 320 104ZM320 105V108H323V105ZM321 103 324 103 324 104 325 104 325 105 326 105 326 108 325 108 325 109 324 109 324 110 321 110 321 109 320 109 320 108 319 108 319 105 320 105 320 104 321 104ZM321 105V108H324V105ZM322 103 325 103 325 104 326 104 326 105 327 105 327 108 326 108 326 109 325 109 325 110 322 110 322 109 321 109 321 108 320 108 320 105 321 105 321 104 322 104ZM322 105V108H325V105ZM323 103 326 103 326 104 327 104 327 105 328 105 328 108 327 108 327 109 326 109 326 110 323 110 323 109 322 109 322 108 321 108 321 105 322 105 322 104 323 104ZM323 105V108H326V105ZM324 103 327 103 327 104 328 104 328 105 329 105 329 108 328 108 328 109 327 109 327 110 324 110 324 109 323 109 323 108 322 108 322 105 323 105 323 104 324 104ZM324 105V108H327V105ZM325 103 328 103 328 104 329 104 329 105 330 105 330 108 329 108 329 109 328 109 328 110 325 110 325 109 324 109 324 108 323 108 323 105 324 105 324 104 325 104ZM325 105V108H328V105ZM326 103 329 103 329 104 330 104 330 105 331 105 331 108 330 108 330 109 329 109 329 110 326 110 326 109 325 109 325 108 324 108 324 105 325 105 325 104 326 104ZM326 105V108H329V105ZM327 103 330 103 330 104 331 104 331 105 332 105 332 108 331 108 331 109 330 109 330 110 327 110 327 109 326 109 326 108 325 108 325 105 326 105 326 104 327 104ZM327 105V108H330V105ZM328 103 331 103 331 104 332 104 332 105 333 105 333 108 332 108 332 109 331 109 331 110 328 110 328 109 327 109 327 108 326 108 326 105 327 105 327 104 328 104ZM328 105V108H331V105ZM329 103 332 103 332 104 333 104 333 105 334 105 334 108 333 108 333 109 332 109 332 110 329 110 329 109 328 109 328 108 327 108 327 105 328 105 328 104 329 104ZM329 105V108H332V105ZM330 103 333 103 333 104 334 104 334 105 335 105 335 108 334 108 334 109 333 109 333 110 330 110 330 109 329 109 329 108 328 108 328 105 329 105 329 104 330 104ZM330 105V108H333V105ZM331 103 334 103 334 104 335 104 335 105 336 105 336 108 335 108 335 109 334 109 334 110 331 110 331 109 330 109 330 108 329 108 329 105 330 105 330 104 331 104ZM331 105V108H334V105ZM332 103 335 103 335 104 336 104 336 105 337 105 337 108 336 108 336 109 335 109 335 110 332 110 332 109 331 109 331 108 330 108 330 105 331 105 331 104 332 104ZM332 105V108H335V105ZM333 103 336 103 336 104 337 104 337 105 338 105 338 108 337 108 337 109 336 109 336 110 333 110 333 109 332 109 332 108 331 108 331 105 332 105 332 104 333 104ZM333 105V108H336V105ZM334 103 337 103 337 104 338 104 338 105 339 105 339 108 338 108 338 109 337 109 337 110 334 110 334 109 333 109 333 108 332 108 332 105 333 105 333 104 334 104ZM334 105V108H337V105ZM335 103 338 103 338 104 339 104 339 105 340 105 340 108 339 108 339 109 338 109 338 110 335 110 335 109 334 109 334 108 333 108 333 105 334 105 334 104 335 104ZM335 105V108H338V105ZM336 103 339 103 339 104 340 104 340 105 341 105 341 108 340 108 340 109 339 109 339 110 336 110 336 109 335 109 335 108 334 108 334 105 335 105 335 104 336 104ZM336 105V108H339V105ZM337 103 340 103 340 104 341 104 341 105 342 105 342 108 341 108 341 109 340 109 340 110 337 110 337 109 336 109 336 108 335 108 335 105 336 105 336 104 337 104ZM337 105V108H340V105ZM338 103 341 103 341 104 342 104 342 105 343 105 343 108 342 108 342 109 341 109 341 110 338 110 338 109 337 109 337 108 336 108 336 105 337 105 337 104 338 104ZM338 105V108H341V105ZM339 103 342 103 342 104 343 104 343 105 344 105 344 108 343 108 343 109 342 109 342 110 339 110 339 109 338 109 338 108 337 108 337 105 338 105 338 104 339 104ZM339 105V108H342V105ZM340 103 343 103 343 104 344 104 344 105 345 105 345 108 344 108 344 109 343 109 343 110 340 110 340 109 339 109 339 108 338 108 338 105 339 105 339 104 340 104ZM340 105V108H343V105ZM341 103 344 103 344 104 345 104 345 105 346 105 346 108 345 108 345 109 344 109 344 110 341 110 341 109 340 109 340 108 339 108 339 105 340 105 340 104 341 104ZM341 105V108H344V105ZM342 103 345 103 345 104 346 104 346 105 347 105 347 108 346 108 346 109 345 109 345 110 342 110 342 109 341 109 341 108 340 108 340 105 341 105 341 104 342 104ZM342 105V108H345V105ZM343 103 346 103 346 104 347 104 347 105 348 105 348 108 347 108 347 109 346 109 346 110 343 110 343 109 342 109 342 108 341 108 341 105 342 105 342 104 343 104ZM343 105V108H346V105ZM344 103 347 103 347 104 348 104 348 105 349 105 349 108 348 108 348 109 347 109 347 110 344 110 344 109 343 109 343 108 342 108 342 105 343 105 343 104 344 104ZM344 105V108H347V105ZM345 103 348 103 348 104 349 104 349 105 350 105 350 108 349 108 349 109 348 109 348 110 345 110 345 109 344 109 344 108 343 108 343 105 344 105 344 104 345 104ZM345 105V108H348V105ZM346 103 349 103 349 104 350 104 350 105 351 105 351 108 350 108 350 109 349 109 349 110 346 110 346 109 345 109 345 108 344 108 344 105 345 105 345 104 346 104ZM346 105V108H349V105ZM347 103 350 103 350 104 351 104 351 105 352 105 352 108 351 108 351 109 350 109 350 110 347 110 347 109 346 109 346 108 345 108 345 105 346 105 346 104 347 104ZM347 105V108H350V105ZM348 103 351 103 351 104 352 104 352 105 353 105 353 108 352 108 352 109 351 109 351 110 348 110 348 109 347 109 347 108 346 108 346 105 347 105 347 104 348 104ZM348 105V108H351V105ZM349 103 352 103 352 104 353 104 353 105 354 105 354 108 353 108 353 109 352 109 352 110 349 110 349 109 348 109 348 108 347 108 347 105 348 105 348 104 349 104ZM349 105V108H352V105ZM350 103 353 103 353 104 354 104 354 105 355 105 355 108 354 108 354 109 353 109 353 110 350 110 350 109 349 109 349 108 348 108 348 105 349 105 349 104 350 104ZM350 105V108H353V105ZM351 103 354 103 354 104 355 104 355 105 356 105 356 108 355 108 355 109 354 109 354 110 351 110 351 109 350 109 350 108 349 108 349 105 350 105 350 104 351 104ZM351 105V108H354V105ZM352 103 355 103 355 104 356 104 356 105 357 105 357 108 356 108 356 109 355 109 355 110 352 110 352 109 351 109 351 108 350 108 350 105 351 105 351 104 352 104ZM352 105V108H355V105ZM353 103 356 103 356 104 357 104 357 105 358 105 358 108 357 108 357 109 356 109 356 110 353 110 353 109 352 109 352 108 351 108 351 105 352 105 352 104 353 104ZM353 105V108H356V105ZM354 103 357 103 357 104 358 104 358 105 359 105 359 108 358 108 358 109 357 109 357 110 354 110 354 109 353 109 353 108 352 108 352 105 353 105 353 104 354 104ZM354 105V108H357V105ZM355 103 358 103 358 104 359 104 359 105 360 105 360 108 359 108 359 109 358 109 358 110 355 110 355 109 354 109 354 108 353 108 353 105 354 105 354 104 355 104ZM355 105V108H358V105ZM356 103 359 103 359 104 360 104 360 105 361 105 361 108 360 108 360 109 359 109 359 110 356 110 356 109 355 109 355 108 354 108 354 105 355 105 355 104 356 104ZM356 105V108H359V105ZM357 103 360 103 360 104 361 104 361 105 362 105 362 108 361 108 361 109 360 109 360 110 357 110 357 109 356 109 356 108 355 108 355 105 356 105 356 104 357 104ZM357 105V108H360V105ZM358 103 361 103 361 104 362 104 362 105 363 105 363 108 362 108 362 109 361 109 361 110 358 110 358 109 357 109 357 108 356 108 356 105 357 105 357 104 358 104ZM358 105V108H361V105ZM359 103 362 103 362 104 363 104 363 105 364 105 364 108 363 108 363 109 362 109 362 110 359 110 359 109 358 109 358 108 357 108 357 105 358 105 358 104 359 104ZM359 105V108H362V105ZM360 103 363 103 363 104 364 104 364 105 365 105 365 108 364 108 364 109 363 109 363 110 360 110 360 109 359 109 359 108 358 108 358 105 359 105 359 104 360 104ZM360 105V108H363V105ZM361 103 364 103 364 104 365 104 365 105 366 105 366 108 365 108 365 109 364 109 364 110 361 110 361 109 360 109 360 108 359 108 359 105 360 105 360 104 361 104ZM361 105V108H364V105ZM362 103 365 103 365 104 366 104 366 105 367 105 367 108 366 108 366 109 365 109 365 110 362 110 362 109 361 109 361 108 360 108 360 105 361 105 361 104 362 104ZM362 105V108H365V105ZM363 103 366 103 366 104 367 104 367 105 368 105 368 108 367 108 367 109 366 109 366 110 363 110 363 109 362 109 362 108 361 108 361 105 362 105 362 104 363 104ZM363 105V108H366V105ZM364 103 367 103 367 104 368 104 368 105 369 105 369 108 368 108 368 109 367 109 367 110 364 110 364 109 363 109 363 108 362 108 362 105 363 105 363 104 364 104ZM364 105V108H367V105ZM365 103 368 103 368 104 369 104 369 105 370 105 370 108 369 108 369 109 368 109 368 110 365 110 365 109 364 109 364 108 363 108 363 105 364 105 364 104 365 104ZM365 105V108H368V105ZM366 103 369 103 369 104 370 104 370 105 371 105 371 108 370 108 370 109 369 109 369 110 366 110 366 109 365 109 365 108 364 108 364 105 365 105 365 104 366 104ZM366 105V108H369V105ZM367 103 370 103 370 104 371 104 371 105 372 105 372 108 371 108 371 109 370 109 370 110 367 110 367 109 366 109 366 108 365 108 365 105 366 105 366 104 367 104ZM367 105V108H370V105ZM368 103 371 103 371 104 372 104 372 105 373 105 373 108 372 108 372 109 371 109 371 110 368 110 368 109 367 109 367 108 366 108 366 105 367 105 367 104 368 104ZM368 105V108H371V105ZM369 103 372 103 372 104 373 104 373 105 374 105 374 108 373 108 373 109 372 109 372 110 369 110 369 109 368 109 368 108 367 108 367 105 368 105 368 104 369 104ZM369 105V108H372V105ZM370 103 373 103 373 104 374 104 374 105 375 105 375 108 374 108 374 109 373 109 373 110 370 110 370 109 369 109 369 108 368 108 368 105 369 105 369 104 370 104ZM370 105V108H373V105ZM371 103 374 103 374 104 375 104 375 105 376 105 376 108 375 108 375 109 374 109 374 110 371 110 371 109 370 109 370 108 369 108 369 105 370 105 370 104 371 104ZM371 105V108H374V105ZM372 103 375 103 375 104 376 104 376 105 377 105 377 108 376 108 376 109 375 109 375 110 372 110 372 109 371 109 371 108 370 108 370 105 371 105 371 104 372 104ZM372 105V108H375V105ZM373 103 376 103 376 104 377 104 377 105 378 105 378 108 377 108 377 109 376 109 376 110 373 110 373 109 372 109 372 108 371 108 371 105 372 105 372 104 373 104ZM373 105V108H376V105ZM374 103 377 103 377 104 378 104 378 105 379 105 379 108 378 108 378 109 377 109 377 110 374 110 374 109 373 109 373 108 372 108 372 105 373 105 373 104 374 104ZM374 105V108H377V105ZM375 103 378 103 378 104 379 104 379 105 380 105 380 108 379 108 379 109 378 109 378 110 375 110 375 109 374 109 374 108 373 108 373 105 374 105 374 104 375 104ZM375 105V108H378V105ZM376 103 379 103 379 104 380 104 380 105 381 105 381 108 380 108 380 109 379 109 379 110 376 110 376 109 375 109 375 108 374 108 374 105 375 105 375 104 376 104ZM376 105V108H379V105ZM377 103 380 103 380 104 381 104 381 105 382 105 382 108 381 108 381 109 380 109 380 110 377 110 377 109 376 109 376 108 375 108 375 105 376 105 376 104 377 104ZM377 105V108H380V105ZM378 103 381 103 381 104 382 104 382 105 383 105 383 108 382 108 382 109 381 109 381 110 378 110 378 109 377 109 377 108 376 108 376 105 377 105 377 104 378 104ZM378 105V108H381V105ZM379 103 382 103 382 104 383 104 383 105 384 105 384 108 383 108 383 109 382 109 382 110 379 110 379 109 378 109 378 108 377 108 377 105 378 105 378 104 379 104ZM379 105V108H382V105ZM380 103 383 103 383 104 384 104 384 105 385 105 385 108 384 108 384 109 383 109 383 110 380 110 380 109 379 109 379 108 378 108 378 105 379 105 379 104 380 104ZM380 105V108H383V105ZM381 103 384 103 384 104 385 104 385 105 386 105 386 108 385 108 385 109 384 109 384 110 381 110 381 109 380 109 380 108 379 108 379 105 380 105 380 104 381 104ZM381 105V108H384V105ZM382 103 385 103 385 104 386 104 386 105 387 105 387 108 386 108 386 109 385 109 385 110 382 110 382 109 381 109 381 108 380 108 380 105 381 105 381 104 382 104ZM382 105V108H385V105ZM383 103 386 103 386 104 387 104 387 105 388 105 388 108 387 108 387 109 386 109 386 110 383 110 383 109 382 109 382 108 381 108 381 105 382 105 382 104 383 104ZM383 105V108H386V105ZM384 103 387 103 387 104 388 104 388 105 389 105 389 108 388 108 388 109 387 109 387 110 384 110 384 109 383 109 383 108 382 108 382 105 383 105 383 104 384 104ZM384 105V108H387V105ZM385 103 388 103 388 104 389 104 389 105 390 105 390 108 389 108 389 109 388 109 388 110 385 110 385 109 384 109 384 108 383 108 383 105 384 105 384 104 385 104ZM385 105V108H388V105ZM386 103 389 103 389 104 390 104 390 105 391 105 391 108 390 108 390 109 389 109 389 110 386 110 386 109 385 109 385 108 384 108 384 105 385 105 385 104 386 104ZM386 105V108H389V105ZM387 103 390 103 390 104 391 104 391 105 392 105 392 108 391 108 391 109 390 109 390 110 387 110 387 109 386 109 386 108 385 108 385 105 386 105 386 104 387 104ZM387 105V108H390V105ZM388 103 391 103 391 104 392 104 392 105 393 105 393 108 392 108 392 109 391 109 391 110 388 110 388 109 387 109 387 108 386 108 386 105 387 105 387 104 388 104ZM388 105V108H391V105ZM389 103 392 103 392 104 393 104 393 105 394 105 394 108 393 108 393 109 392 109 392 110 389 110 389 109 388 109 388 108 387 108 387 105 388 105 388 104 389 104ZM389 105V108H392V105ZM390 103 393 103 393 104 394 104 394 105 395 105 395 108 394 108 394 109 393 109 393 110 390 110 390 109 389 109 389 108 388 108 388 105 389 105 389 104 390 104ZM390 105V108H393V105ZM391 103 394 103 394 104 395 104 395 105 396 105 396 108 395 108 395 109 394 109 394 110 391 110 391 109 390 109 390 108 389 108 389 105 390 105 390 104 391 104ZM391 105V108H394V105ZM392 103 395 103 395 104 396 104 396 105 397 105 397 108 396 108 396 109 395 109 395 110 392 110 392 109 391 109 391 108 390 108 390 105 391 105 391 104 392 104ZM392 105V108H395V105ZM393 103 396 103 396 104 397 104 397 105 398 105 398 108 397 108 397 109 396 109 396 110 393 110 393 109 392 109 392 108 391 108 391 105 392 105 392 104 393 104ZM393 105V108H396V105ZM394 103 397 103 397 104 398 104 398 105 399 105 399 108 398 108 398 109 397 109 397 110 394 110 394 109 393 109 393 108 392 108 392 105 393 105 393 104 394 104ZM394 105V108H397V105ZM395 103 398 103 398 104 399 104 399 105 400 105 400 108 399 108 399 109 398 109 398 110 395 110 395 109 394 109 394 108 393 108 393 105 394 105 394 104 395 104ZM395 105V108H398V105ZM396 103 399 103 399 104 400 104 400 105 401 105 401 108 400 108 400 109 399 109 399 110 396 110 396 109 395 109 395 108 394 108 394 105 395 105 395 104 396 104ZM396 105V108H399V105ZM397 103 400 103 400 104 401 104 401 105 402 105 402 108 401 108 401 109 400 109 400 110 397 110 397 109 396 109 396 108 395 108 395 105 396 105 396 104 397 104ZM397 105V108H400V105ZM398 103 401 103 401 104 402 104 402 105 403 105 403 108 402 108 402 109 401 109 401 110 398 110 398 109 397 109 397 108 396 108 396 105 397 105 397 104 398 104ZM398 105V108H401V105ZM399 103 402 103 402 104 403 104 403 105 404 105 404 108 403 108 403 109 402 109 402 110 399 110 399 109 398 109 398 108 397 108 397 105 398 105 398 104 399 104ZM399 105V108H402V105ZM400 103 403 103 403 104 404 104 404 105 405 105 405 108 404 108 404 109 403 109 403 110 400 110 400 109 399 109 399 108 398 108 398 105 399 105 399 104 400 104ZM400 105V108H403V105ZM401 103 404 103 404 104 405 104 405 105 406 105 406 108 405 108 405 109 404 109 404 110 401 110 401 109 400 109 400 108 399 108 399 105 400 105 400 104 401 104ZM401 105V108H404V105ZM402 103 405 103 405 104 406 104 406 105 407 105 407 108 406 108 406 109 405 109 405 110 402 110 402 109 401 109 401 108 400 108 400 105 401 105 401 104 402 104ZM402 105V108H405V105ZM403 103 406 103 406 104 407 104 407 105 408 105 408 108 407 108 407 109 406 109 406 110 403 110 403 109 402 109 402 108 401 108 401 105 402 105 402 104 403 104ZM403 105V108H406V105ZM404 103 407 103 407 104 408 104 408 105 409 105 409 108 408 108 408 109 407 109 407 110 404 110 404 109 403 109 403 108 402 108 402 105 403 105 403 104 404 104ZM404 105V108H407V105ZM405 103 408 103 408 104 409 104 409 105 410 105 410 108 409 108 409 109 408 109 408 110 405 110 405 109 404 109 404 108 403 108 403 105 404 105 404 104 405 104ZM405 105V108H408V105ZM406 103 409 103 409 104 410 104 410 105 411 105 411 108 410 108 410 109 409 109 409 110 406 110 406 109 405 109 405 108 404 108 404 105 405 105 405 104 406 104ZM406 105V108H409V105ZM407 103 410 103 410 104 411 104 411 105 412 105 412 108 411 108 411 109 410 109 410 110 407 110 407 109 406 109 406 108 405 108 405 105 406 105 406 104 407 104ZM407 105V108H410V105ZM408 103 411 103 411 104 412 104 412 105 413 105 413 108 412 108 412 109 411 109 411 110 408 110 408 109 407 109 407 108 406 108 406 105 407 105 407 104 408 104ZM408 105V108H411V105ZM409 103 412 103 412 104 413 104 413 105 414 105 414 108 413 108 413 109 412 109 412 110 409 110 409 109 408 109 408 108 407 108 407 105 408 105 408 104 409 104ZM409 105V108H412V105ZM410 103 413 103 413 104 414 104 414 105 415 105 415 108 414 108 414 109 413 109 413 110 410 110 410 109 409 109 409 108 408 108 408 105 409 105 409 104 410 104ZM410 105V108H413V105ZM411 103 414 103 414 104 415 104 415 105 416 105 416 108 415 108 415 109 414 109 414 110 411 110 411 109 410 109 410 108 409 108 409 105 410 105 410 104 411 104ZM411 105V108H414V105ZM412 103 415 103 415 104 416 104 416 105 417 105 417 108 416 108 416 109 415 109 415 110 412 110 412 109 411 109 411 108 410 108 410 105 411 105 411 104 412 104ZM412 105V108H415V105ZM413 103 416 103 416 104 417 104 417 105 418 105 418 108 417 108 417 109 416 109 416 110 413 110 413 109 412 109 412 108 411 108 411 105 412 105 412 104 413 104ZM413 105V108H416V105ZM414 103 417 103 417 104 418 104 418 105 419 105 419 108 418 108 418 109 417 109 417 110 414 110 414 109 413 109 413 108 412 108 412 105 413 105 413 104 414 104ZM414 105V108H417V105ZM415 103 418 103 418 104 419 104 419 105 420 105 420 108 419 108 419 109 418 109 418 110 415 110 415 109 414 109 414 108 413 108 413 105 414 105 414 104 415 104ZM415 105V108H418V105ZM416 103 419 103 419 104 420 104 420 105 421 105 421 108 420 108 420 109 419 109 419 110 416 110 416 109 415 109 415 108 414 108 414 105 415 105 415 104 416 104ZM416 105V108H419V105ZM417 103 420 103 420 104 421 104 421 105 422 105 422 108 421 108 421 109 420 109 420 110 417 110 417 109 416 109 416 108 415 108 415 105 416 105 416 104 417 104ZM417 105V108H420V105ZM418 103 421 103 421 104 422 104 422 105 423 105 423 108 422 108 422 109 421 109 421 110 418 110 418 109 417 109 417 108 416 108 416 105 417 105 417 104 418 104ZM418 105V108H421V105ZM419 103 422 103 422 104 423 104 423 105 424 105 424 108 423 108 423 109 422 109 422 110 419 110 419 109 418 109 418 108 417 108 417 105 418 105 418 104 419 104ZM419 105V108H422V105ZM420 103 423 103 423 104 424 104 424 105 425 105 425 108 424 108 424 109 423 109 423 110 420 110 420 109 419 109 419 108 418 108 418 105 419 105 419 104 420 104ZM420 105V108H423V105ZM421 103 424 103 424 104 425 104 425 105 426 105 426 108 425 108 425 109 424 109 424 110 421 110 421 109 420 109 420 108 419 108 419 105 420 105 420 104 421 104ZM421 105V108H424V105ZM422 103 425 103 425 104 426 104 426 105 427 105 427 108 426 108 426 109 425 109 425 110 422 110 422 109 421 109 421 108 420 108 420 105 421 105 421 104 422 104ZM422 105V108H425V105ZM423 103 426 103 426 104 427 104 427 105 428 105 428 108 427 108 427 109 426 109 426 110 423 110 423 109 422 109 422 108 421 108 421 105 422 105 422 104 423 104ZM423 105V108H426V105ZM424 103 427 103 427 104 428 104 428 105 429 105 429 108 428 108 428 109 427 109 427 110 424 110 424 109 423 109 423 108 422 108 422 105 423 105 423 104 424 104ZM424 105V108H427V105ZM425 103 428 103 428 104 429 104 429 105 430 105 430 108 429 108 429 109 428 109 428 110 425 110 425 109 424 109 424 108 423 108 423 105 424 105 424 104 425 104ZM425 105V108H428V105ZM426 103 429 103 429 104 430 104 430 105 431 105 431 108 430 108 430 109 429 109 429 110 426 110 426 109 425 109 425 108 424 108 424 105 425 105 425 104 426 104ZM426 105V108H429V105ZM427 103 430 103 430 104 431 104 431 105 432 105 432 108 431 108 431 109 430 109 430 110 427 110 427 109 426 109 426 108 425 108 425 105 426 105 426 104 427 104ZM427 105V108H430V105ZM428 103 431 103 431 104 432 104 432 105 433 105 433 108 432 108 432 109 431 109 431 110 428 110 428 109 427 109 427 108 426 108 426 105 427 105 427 104 428 104ZM428 105V108H431V105ZM429 103 432 103 432 104 433 104 433 105 434 105 434 108 433 108 433 109 432 109 432 110 429 110 429 109 428 109 428 108 427 108 427 105 428 105 428 104 429 104ZM429 105V108H432V105ZM430 103 433 103 433 104 434 104 434 105 435 105 435 108 434 108 434 109 433 109 433 110 430 110 430 109 429 109 429 108 428 108 428 105 429 105 429 104 430 104ZM430 105V108H433V105ZM431 103 434 103 434 104 435 104 435 105 436 105 436 108 435 108 435 109 434 109 434 110 431 110 431 109 430 109 430 108 429 108 429 105 430 105 430 104 431 104ZM431 105V108H434V105ZM432 103 435 103 435 104 436 104 436 105 437 105 437 108 436 108 436 109 435 109 435 110 432 110 432 109 431 109 431 108 430 108 430 105 431 105 431 104 432 104ZM432 105V108H435V105ZM433 103 436 103 436 104 437 104 437 105 438 105 438 108 437 108 437 109 436 109 436 110 433 110 433 109 432 109 432 108 431 108 431 105 432 105 432 104 433 104ZM433 105V108H436V105ZM434 103 437 103 437 104 438 104 438 105 439 105 439 108 438 108 438 109 437 109 437 110 434 110 434 109 433 109 433 108 432 108 432 105 433 105 433 104 434 104ZM434 105V108H437V105ZM435 103 438 103 438 104 439 104 439 105 440 105 440 108 439 108 439 109 438 109 438 110 435 110 435 109 434 109 434 108 433 108 433 105 434 105 434 104 435 104ZM435 105V108H438V105ZM436 103 439 103 439 104 440 104 440 105 441 105 441 108 440 108 440 109 439 109 439 110 436 110 436 109 435 109 435 108 434 108 434 105 435 105 435 104 436 104ZM436 105V108H439V105ZM437 103 440 103 440 104 441 104 441 105 442 105 442 108 441 108 441 109 440 109 440 110 437 110 437 109 436 109 436 108 435 108 435 105 436 105 436 104 437 104ZM437 105V108H440V105ZM438 103 441 103 441 104 442 104 442 105 443 105 443 108 442 108 442 109 441 109 441 110 438 110 438 109 437 109 437 108 436 108 436 105 437 105 437 104 438 104ZM438 105V108H441V105ZM439 103 442 103 442 104 443 104 443 105 444 105 444 108 443 108 443 109 442 109 442 110 439 110 439 109 438 109 438 108 437 108 437 105 438 105 438 104 439 104ZM439 105V108H442V105ZM440 103 443 103 443 104 444 104 444 105 445 105 445 108 444 108 444 109 443 109 443 110 440 110 440 109 439 109 439 108 438 108 438 105 439 105 439 104 440 104ZM440 105V108H443V105ZM441 103 444 103 444 104 445 104 445 105 446 105 446 108 445 108 445 109 444 109 444 110 441 110 441 109 440 109 440 108 439 108 439 105 440 105 440 104 441 104ZM441 105V108H444V105ZM442 103 445 103 445 104 446 104 446 105 447 105 447 108 446 108 446 109 445 109 445 110 442 110 442 109 441 109 441 108 440 108 440 105 441 105 441 104 442 104ZM442 105V108H445V105ZM443 103 446 103 446 104 447 104 447 105 448 105 448 108 447 108 447 109 446 109 446 110 443 110 443 109 442 109 442 108 441 108 441 105 442 105 442 104 443 104ZM443 105V108H446V105ZM444 103 447 103 447 104 448 104 448 105 449 105 449 108 448 108 448 109 447 109 447 110 444 110 444 109 443 109 443 108 442 108 442 105 443 105 443 104 444 104ZM444 105V108H447V105ZM445 103 448 103 448 104 449 104 449 105 450 105 450 108 449 108 449 109 448 109 448 110 445 110 445 109 444 109 444 108 443 108 443 105 444 105 444 104 445 104ZM445 105V108H448V105ZM446 103 449 103 449 104 450 104 450 105 451 105 451 108 450 108 450 109 449 109 449 110 446 110 446 109 445 109 445 108 444 108 444 105 445 105 445 104 446 104ZM446 105V108H449V105ZM447 103 450 103 450 104 451 104 451 105 452 105 452 108 451 108 451 109 450 109 450 110 447 110 447 109 446 109 446 108 445 108 445 105 446 105 446 104 447 104ZM447 105V108H450V105ZM448 103 451 103 451 104 452 104 452 105 453 105 453 108 452 108 452 109 451 109 451 110 448 110 448 109 447 109 447 108 446 108 446 105 447 105 447 104 448 104ZM448 105V108H451V105ZM449 103 452 103 452 104 453 104 453 105 454 105 454 108 453 108 453 109 452 109 452 110 449 110 449 109 448 109 448 108 447 108 447 105 448 105 448 104 449 104ZM449 105V108H452V105ZM450 103 453 103 453 104 454 104 454 105 455 105 455 108 454 108 454 109 453 109 453 110 450 110 450 109 449 109 449 108 448 108 448 105 449 105 449 104 450 104ZM450 105V108H453V105ZM451 103 454 103 454 104 455 104 455 105 456 105 456 108 455 108 455 109 454 109 454 110 451 110 451 109 450 109 450 108 449 108 449 105 450 105 450 104 451 104ZM451 105V108H454V105ZM452 103 455 103 455 104 456 104 456 105 457 105 457 108 456 108 456 109 455 109 455 110 452 110 452 109 451 109 451 108 450 108 450 105 451 105 451 104 452 104ZM452 105V108H455V105ZM453 103 456 103 456 104 457 104 457 105 458 105 458 108 457 108 457 109 456 109 456 110 453 110 453 109 452 109 452 108 451 108 451 105 452 105 452 104 453 104ZM453 105V108H456V105ZM454 103 457 103 457 104 458 104 458 105 459 105 459 108 458 108 458 109 457 109 457 110 454 110 454 109 453 109 453 108 452 108 452 105 453 105 453 104 454 104ZM454 105V108H457V105ZM455 103 458 103 458 104 459 104 459 105 460 105 460 108 459 108 459 109 458 109 458 110 455 110 455 109 454 109 454 108 453 108 453 105 454 105 454 104 455 104ZM455 105V108H458V105ZM456 103 459 103 459 104 460 104 460 105 461 105 461 108 460 108 460 109 459 109 459 110 456 110 456 109 455 109 455 108 454 108 454 105 455 105 455 104 456 104ZM456 105V108H459V105ZM457 103 460 103 460 104 461 104 461 105 462 105 462 108 461 108 461 109 460 109 460 110 457 110 457 109 456 109 456 108 455 108 455 105 456 105 456 104 457 104ZM457 105V108H460V105ZM458 103 461 103 461 104 462 104 462 105 463 105 463 108 462 108 462 109 461 109 461 110 458 110 458 109 457 109 457 108 456 108 456 105 457 105 457 104 458 104ZM458 105V108H461V105ZM459 103 462 103 462 104 463 104 463 105 464 105 464 108 463 108 463 109 462 109 462 110 459 110 459 109 458 109 458 108 457 108 457 105 458 105 458 104 459 104ZM459 105V108H462V105ZM460 103 463 103 463 104 464 104 464 105 465 105 465 108 464 108 464 109 463 109 463 110 460 110 460 109 459 109 459 108 458 108 458 105 459 105 459 104 460 104ZM460 105V108H463V105ZM461 103 464 103 464 104 465 104 465 105 466 105 466 108 465 108 465 109 464 109 464 110 461 110 461 109 460 109 460 108 459 108 459 105 460 105 460 104 461 104ZM461 105V108H464V105ZM462 103 465 103 465 104 466 104 466 105 467 105 467 108 466 108 466 109 465 109 465 110 462 110 462 109 461 109 461 108 460 108 460 105 461 105 461 104 462 104ZM462 105V108H465V105ZM463 103 466 103 466 104 467 104 467 105 468 105 468 108 467 108 467 109 466 109 466 110 463 110 463 109 462 109 462 108 461 108 461 105 462 105 462 104 463 104ZM463 105V108H466V105ZM464 103 467 103 467 104 468 104 468 105 469 105 469 108 468 108 468 109 467 109 467 110 464 110 464 109 463 109 463 108 462 108 462 105 463 105 463 104 464 104ZM464 105V108H467V105ZM465 103 468 103 468 104 469 104 469 105 470 105 470 108 469 108 469 109 468 109 468 110 465 110 465 109 464 109 464 108 463 108 463 105 464 105 464 104 465 104ZM465 105V108H468V105ZM466 103 469 103 469 104 470 104 470 105 471 105 471 108 470 108 470 109 469 109 469 110 466 110 466 109 465 109 465 108 464 108 464 105 465 105 465 104 466 104ZM466 105V108H469V105ZM467 103 470 103 470 104 471 104 471 105 472 105 472 108 471 108 471 109 470 109 470 110 467 110 467 109 466 109 466 108 465 108 465 105 466 105 466 104 467 104ZM467 105V108H470V105ZM468 103 471 103 471 104 472 104 472 105 473 105 473 108 472 108 472 109 471 109 471 110 468 110 468 109 467 109 467 108 466 108 466 105 467 105 467 104 468 104ZM468 105V108H471V105ZM469 103 472 103 472 104 473 104 473 105 474 105 474 108 473 108 473 109 472 109 472 110 469 110 469 109 468 109 468 108 467 108 467 105 468 105 468 104 469 104ZM469 105V108H472V105ZM470 103 473 103 473 104 474 104 474 105 475 105 475 108 474 108 474 109 473 109 473 110 470 110 470 109 469 109 469 108 468 108 468 105 469 105 469 104 470 104ZM470 105V108H473V105ZM471 103 474 103 474 104 475 104 475 105 476 105 476 108 475 108 475 109 474 109 474 110 471 110 471 109 470 109 470 108 469 108 469 105 470 105 470 104 471 104ZM471 105V108H474V105ZM472 103 475 103 475 104 476 104 476 105 477 105 477 108 476 108 476 109 475 109 475 110 472 110 472 109 471 109 471 108 470 108 470 105 471 105 471 104 472 104ZM472 105V108H475V105ZM473 103 476 103 476 104 477 104 477 105 478 105 478 108 477 108 477 109 476 109 476 110 473 110 473 109 472 109 472 108 471 108 471 105 472 105 472 104 473 104ZM473 105V108H476V105ZM474 103 477 103 477 104 478 104 478 105 479 105 479 108 478 108 478 109 477 109 477 110 474 110 474 109 473 109 473 108 472 108 472 105 473 105 473 104 474 104ZM474 105V108H477V105ZM475 103 478 103 478 104 479 104 479 105 480 105 480 108 479 108 479 109 478 109 478 110 475 110 475 109 474 109 474 108 473 108 473 105 474 105 474 104 475 104ZM475 105V108H478V105ZM476 103 479 103 479 104 480 104 480 105 481 105 481 108 480 108 480 109 479 109 479 110 476 110 476 109 475 109 475 108 474 108 474 105 475 105 475 104 476 104ZM476 105V108H479V105ZM477 103 480 103 480 104 481 104 481 105 482 105 482 108 481 108 481 109 480 109 480 110 477 110 477 109 476 109 476 108 475 108 475 105 476 105 476 104 477 104ZM477 105V108H480V105ZM478 103 481 103 481 104 482 104 482 105 483 105 483 108 482 108 482 109 481 109 481 110 478 110 478 109 477 109 477 108 476 108 476 105 477 105 477 104 478 104ZM478 105V108H481V105ZM479 103 482 103 482 104 483 104 483 105 484 105 484 108 483 108 483 109 482 109 482 110 479 110 479 109 478 109 478 108 477 108 477 105 478 105 478 104 479 104ZM479 105V108H482V105ZM480 103 483 103 483 104 484 104 484 105 485 105 485 108 484 108 484 109 483 109 483 110 480 110 480 109 479 109 479 108 478 108 478 105 479 105 479 104 480 104ZM480 105V108H483V105ZM481 103 484 103 484 104 485 104 485 105 486 105 486 108 485 108 485 109 484 109 484 110 481 110 481 109 480 109 480 108 479 108 479 105 480 105 480 104 481 104ZM481 105V108H484V105ZM482 103 485 103 485 104 486 104 486 105 487 105 487 108 486 108 486 109 485 109 485 110 482 110 482 109 481 109 481 108 480 108 480 105 481 105 481 104 482 104ZM482 105V108H485V105ZM483 103 486 103 486 104 487 104 487 105 488 105 488 108 487 108 487 109 486 109 486 110 483 110 483 109 482 109 482 108 481 108 481 105 482 105 482 104 483 104ZM483 105V108H486V105ZM484 103 487 103 487 104 488 104 488 105 489 105 489 108 488 108 488 109 487 109 487 110 484 110 484 109 483 109 483 108 482 108 482 105 483 105 483 104 484 104ZM484 105V108H487V105ZM485 103 488 103 488 104 489 104 489 105 490 105 490 108 489 108 489 109 488 109 488 110 485 110 485 109 484 109 484 108 483 108 483 105 484 105 484 104 485 104ZM485 105V108H488V105ZM486 103 489 103 489 104 490 104 490 105 491 105 491 108 490 108 490 109 489 109 489 110 486 110 486 109 485 109 485 108 484 108 484 105 485 105 485 104 486 104ZM486 105V108H489V105ZM487 103 490 103 490 104 491 104 491 105 492 105 492 108 491 108 491 109 490 109 490 110 487 110 487 109 486 109 486 108 485 108 485 105 486 105 486 104 487 104ZM487 105V108H490V105ZM488 103 491 103 491 104 492 104 492 105 493 105 493 108 492 108 492 109 491 109 491 110 488 110 488 109 487 109 487 108 486 108 486 105 487 105 487 104 488 104ZM488 105V108H491V105ZM489 103 492 103 492 104 493 104 493 105 494 105 494 108 493 108 493 109 492 109 492 110 489 110 489 109 488 109 488 108 487 108 487 105 488 105 488 104 489 104ZM489 105V108H492V105ZM490 103 493 103 493 104 494 104 494 105 495 105 495 108 494 108 494 109 493 109 493 110 490 110 490 109 489 109 489 108 488 108 488 105 489 105 489 104 490 104ZM490 105V108H493V105ZM491 103 494 103 494 104 495 104 495 105 496 105 496 108 495 108 495 109 494 109 494 110 491 110 491 109 490 109 490 108 489 108 489 105 490 105 490 104 491 104ZM491 105V108H494V105ZM492 103 495 103 495 104 496 104 496 105 497 105 497 108 496 108 496 109 495 109 495 110 492 110 492 109 491 109 491 108 490 108 490 105 491 105 491 104 492 104ZM492 105V108H495V105ZM493 103 496 103 496 104 497 104 497 105 498 105 498 108 497 108 497 109 496 109 496 110 493 110 493 109 492 109 492 108 491 108 491 105 492 105 492 104 493 104ZM493 105V108H496V105ZM494 103 497 103 497 104 498 104 498 105 499 105 499 108 498 108 498 109 497 109 497 110 494 110 494 109 493 109 493 108 492 108 492 105 493 105 493 104 494 104ZM494 105V108H497V105ZM495 103 498 103 498 104 499 104 499 105 500 105 500 108 499 108 499 109 498 109 498 110 495 110 495 109 494 109 494 108 493 108 493 105 494 105 494 104 495 104ZM495 105V108H498V105ZM496 103 499 103 499 104 500 104 500 105 501 105 501 108 500 108 500 109 499 109 499 110 496 110 496 109 495 109 495 108 494 108 494 105 495 105 495 104 496 104ZM496 105V108H499V105ZM497 103 500 103 500 104 501 104 501 105 502 105 502 108 501 108 501 109 500 109 500 110 497 110 497 109 496 109 496 108 495 108 495 105 496 105 496 104 497 104ZM497 105V108H500V105ZM498 103 501 103 501 104 502 104 502 105 503 105 503 108 502 108 502 109 501 109 501 110 498 110 498 109 497 109 497 108 496 108 496 105 497 105 497 104 498 104ZM498 105V108H501V105ZM499 103 502 103 502 104 503 104 503 105 504 105 504 108 503 108 503 109 502 109 502 110 499 110 499 109 498 109 498 108 497 108 497 105 498 105 498 104 499 104ZM499 105V108H502V105ZM500 103 503 103 503 104 504 104 504 105 505 105 505 108 504 108 504 109 503 109 503 110 500 110 500 109 499 109 499 108 498 108 498 105 499 105 499 104 500 104ZM500 105V108H503V105ZM501 103 504 103 504 104 505 104 505 105 506 105 506 108 505 108 505 109 504 109 504 110 501 110 501 109 500 109 500 108 499 108 499 105 500 105 500 104 501 104ZM501 105V108H504V105ZM502 103 505 103 505 104 506 104 506 105 507 105 507 108 506 108 506 109 505 109 505 110 502 110 502 109 501 109 501 108 500 108 500 105 501 105 501 104 502 104ZM502 105V108H505V105ZM503 103 506 103 506 104 507 104 507 105 508 105 508 108 507 108 507 109 506 109 506 110 503 110 503 109 502 109 502 108 501 108 501 105 502 105 502 104 503 104ZM503 105V108H506V105ZM504 103 507 103 507 104 508 104 508 105 509 105 509 108 508 108 508 109 507 109 507 110 504 110 504 109 503 109 503 108 502 108 502 105 503 105 503 104 504 104ZM504 105V108H507V105ZM505 103 508 103 508 104 509 104 509 105 510 105 510 108 509 108 509 109 508 109 508 110 505 110 505 109 504 109 504 108 503 108 503 105 504 105 504 104 505 104ZM505 105V108H508V105ZM506 103 509 103 509 104 510 104 510 105 511 105 511 108 510 108 510 109 509 109 509 110 506 110 506 109 505 109 505 108 504 108 504 105 505 105 505 104 506 104ZM506 105V108H509V105ZM507 103 510 103 510 104 511 104 511 105 512 105 512 108 511 108 511 109 510 109 510 110 507 110 507 109 506 109 506 108 505 108 505 105 506 105 506 104 507 104ZM507 105V108H510V105ZM508 103 511 103 511 104 512 104 512 105 513 105 513 108 512 108 512 109 511 109 511 110 508 110 508 109 507 109 507 108 506 108 506 105 507 105 507 104 508 104ZM508 105V108H511V105ZM509 103 512 103 512 104 513 104 513 105 514 105 514 108 513 108 513 109 512 109 512 110 509 110 509 109 508 109 508 108 507 108 507 105 508 105 508 104 509 104ZM509 105V108H512V105ZM510 103 513 103 513 104 514 104 514 105 515 105 515 108 514 108 514 109 513 109 513 110 510 110 510 109 509 109 509 108 508 108 508 105 509 105 509 104 510 104ZM510 105V108H513V105ZM511 103 514 103 514 104 515 104 515 105 516 105 516 108 515 108 515 109 514 109 514 110 511 110 511 109 510 109 510 108 509 108 509 105 510 105 510 104 511 104ZM511 105V108H514V105ZM512 103 515 103 515 104 516 104 516 105 517 105 517 108 516 108 516 109 515 109 515 110 512 110 512 109 511 109 511 108 510 108 510 105 511 105 511 104 512 104ZM512 105V108H515V105ZM513 103 516 103 516 104 517 104 517 105 518 105 518 108 517 108 517 109 516 109 516 110 513 110 513 109 512 109 512 108 511 108 511 105 512 105 512 104 513 104ZM513 105V108H516V105ZM514 103 517 103 517 104 518 104 518 105 519 105 519 108 518 108 518 109 517 109 517 110 514 110 514 109 513 109 513 108 512 108 512 105 513 105 513 104 514 104ZM514 105V108H517V105ZM515 103 518 103 518 104 519 104 519 105 520 105 520 108 519 108 519 109 518 109 518 110 515 110 515 109 514 109 514 108 513 108 513 105 514 105 514 104 515 104ZM515 105V108H518V105ZM516 103 519 103 519 104 520 104 520 105 521 105 521 108 520 108 520 109 519 109 519 110 516 110 516 109 515 109 515 108 514 108 514 105 515 105 515 104 516 104ZM516 105V108H519V105ZM517 103 520 103 520 104 521 104 521 105 522 105 522 108 521 108 521 109 520 109 520 110 517 110 517 109 516 109 516 108 515 108 515 105 516 105 516 104 517 104ZM517 105V108H520V105ZM518 103 521 103 521 104 522 104 522 105 523 105 523 108 522 108 522 109 521 109 521 110 518 110 518 109 517 109 517 108 516 108 516 105 517 105 517 104 518 104ZM518 105V108H521V105ZM519 103 522 103 522 104 523 104 523 105 524 105 524 108 523 108 523 109 522 109 522 110 519 110 519 109 518 109 518 108 517 108 517 105 518 105 518 104 519 104ZM519 105V108H522V105ZM520 103 523 103 523 104 524 104 524 105 525 105 525 108 524 108 524 109 523 109 523 110 520 110 520 109 519 109 519 108 518 108 518 105 519 105 519 104 520 104ZM520 105V108H523V105ZM521 103 524 103 524 104 525 104 525 105 526 105 526 108 525 108 525 109 524 109 524 110 521 110 521 109 520 109 520 108 519 108 519 105 520 105 520 104 521 104ZM521 105V108H524V105ZM522 103 525 103 525 104 526 104 526 105 527 105 527 108 526 108 526 109 525 109 525 110 522 110 522 109 521 109 521 108 520 108 520 105 521 105 521 104 522 104ZM522 105V108H525V105ZM523 103 526 103 526 104 527 104 527 105 528 105 528 108 527 108 527 109 526 109 526 110 523 110 523 109 522 109 522 108 521 108 521 105 522 105 522 104 523 104ZM523 105V108H526V105ZM524 103 527 103 527 104 528 104 528 105 529 105 529 108 528 108 528 109 527 109 527 110 524 110 524 109 523 109 523 108 522 108 522 105 523 105 523 104 524 104ZM524 105V108H527V105ZM525 103 528 103 528 104 529 104 529 105 530 105 530 108 529 108 529 109 528 109 528 110 525 110 525 109 524 109 524 108 523 108 523 105 524 105 524 104 525 104ZM525 105V108H528V105ZM526 103 529 103 529 104 530 104 530 105 531 105 531 108 530 108 530 109 529 109 529 110 526 110 526 109 525 109 525 108 524 108 524 105 525 105 525 104 526 104ZM526 105V108H529V105ZM526 104 529 104 529 105 530 105 530 106 531 106 531 109 530 109 530 110 529 110 529 111 526 111 526 110 525 110 525 109 524 109 524 106 525 106 525 105 526 105ZM526 106V109H529V106ZM527 104 530 104 530 105 531 105 531 106 532 106 532 109 531 109 531 110 530 110 530 111 527 111 527 110 526 110 526 109 525 109 525 106 526 106 526 105 527 105ZM527 106V109H530V106ZM528 104 531 104 531 105 532 105 532 106 533 106 533 109 532 109 532 110 531 110 531 111 528 111 528 110 527 110 527 109 526 109 526 106 527 106 527 105 528 105ZM528 106V109H531V106ZM529 104 532 104 532 105 533 105 533 106 534 106 534 109 533 109 533 110 532 110 532 111 529 111 529 110 528 110 528 109 527 109 527 106 528 106 528 105 529 105ZM529 106V109H532V106ZM530 104 533 104 533 105 534 105 534 106 535 106 535 109 534 109 534 110 533 110 533 111 530 111 530 110 529 110 529 109 528 109 528 106 529 106 529 105 530 105ZM530 106V109H533V106ZM531 104 534 104 534 105 535 105 535 106 536 106 536 109 535 109 535 110 534 110 534 111 531 111 531 110 530 110 530 109 529 109 529 106 530 106 530 105 531 105ZM531 106V109H534V106ZM532 104 535 104 535 105 536 105 536 106 537 106 537 109 536 109 536 110 535 110 535 111 532 111 532 110 531 110 531 109 530 109 530 106 531 106 531 105 532 105ZM532 106V109H535V106ZM533 104 536 104 536 105 537 105 537 106 538 106 538 109 537 109 537 110 536 110 536 111 533 111 533 110 532 110 532 109 531 109 531 106 532 106 532 105 533 105ZM533 106V109H536V106ZM534 105 537 105 537 106 538 106 538 107 539 107 539 110 538 110 538 111 537 111 537 112 534 112 534 111 533 111 533 110 532 110 532 107 533 107 533 106 534 106ZM534 107V110H537V107ZM535 105 538 105 538 106 539 106 539 107 540 107 540 110 539 110 539 111 538 111 538 112 535 112 535 111 534 111 534 110 533 110 533 107 534 107 534 106 535 106ZM535 107V110H538V107ZM536 105 539 105 539 106 540 106 540 107 541 107 541 110 540 110 540 111 539 111 539 112 536 112 536 111 535 111 535 110 534 110 534 107 535 107 535 106 536 106ZM536 107V110H539V107ZM537 105 540 105 540 106 541 106 541 107 542 107 542 110 541 110 541 111 540 111 540 112 537 112 537 111 536 111 536 110 535 110 535 107 536 107 536 106 537 106ZM537 107V110H540V107ZM538 105 541 105 541 106 542 106 542 107 543 107 543 110 542 110 542 111 541 111 541 112 538 112 538 111 537 111 537 110 536 110 536 107 537 107 537 106 538 106ZM538 107V110H541V107ZM539 105 542 105 542 106 543 106 543 107 544 107 544 110 543 110 543 111 542 111 542 112 539 112 539 111 538 111 538 110 537 110 537 107 538 107 538 106 539 106ZM539 107V110H542V107ZM540 105 543 105 543 106 544 106 544 107 545 107 545 110 544 110 544 111 543 111 543 112 540 112 540 111 539 111 539 110 538 110 538 107 539 107 539 106 540 106ZM540 107V110H543V107ZM541 106 544 106 544 107 545 107 545 108 546 108 546 111 545 111 545 112 544 112 544 113 541 113 541 112 540 112 540 111 539 111 539 108 540 108 540 107 541 107ZM541 108V111H544V108ZM542 106 545 106 545 107 546 107 546 108 547 108 547 111 546 111 546 112 545 112 545 113 542 113 542 112 541 112 541 111 540 111 540 108 541 108 541 107 542 107ZM542 108V111H545V108ZM543 106 546 106 546 107 547 107 547 108 548 108 548 111 547 111 547 112 546 112 546 113 543 113 543 112 542 112 542 111 541 111 541 108 542 108 542 107 543 107ZM543 108V111H546V108ZM544 106 547 106 547 107 548 107 548 108 549 108 549 111 548 111 548 112 547 112 547 113 544 113 544 112 543 112 543 111 542 111 542 108 543 108 543 107 544 107ZM544 108V111H547V108ZM544 107 547 107 547 108 548 108 548 109 549 109 549 112 548 112 548 113 547 113 547 114 544 114 544 113 543 113 543 112 542 112 542 109 543 109 543 108 544 108ZM544 109V112H547V109ZM545 107 548 107 548 108 549 108 549 109 550 109 550 112 549 112 549 113 548 113 548 114 545 114 545 113 544 113 544 112 543 112 543 109 544 109 544 108 545 108ZM545 109V112H548V109ZM546 107 549 107 549 108 550 108 550 109 551 109 551 112 550 112 550 113 549 113 549 114 546 114 546 113 545 113 545 112 544 112 544 109 545 109 545 108 546 108ZM546 109V112H549V109ZM547 107 550 107 550 108 551 108 551 109 552 109 552 112 551 112 551 113 550 113 550 114 547 114 547 113 546 113 546 112 545 112 545 109 546 109 546 108 547 108ZM547 109V112H550V109ZM548 107 551 107 551 108 552 108 552 109 553 109 553 112 552 112 552 113 551 113 551 114 548 114 548 113 547 113 547 112 546 112 546 109 547 109 547 108 548 108ZM548 109V112H551V109ZM93 67 96 67 96 68 97 68 97 69 98 69 98 72 97 72 97 73 96 73 96 74 93 74 93 73 92 73 92 72 91 72 91 69 92 69 92 68 93 68ZM93 69V72H96V69ZM94 68 97 68 97 69 98 69 98 70 99 70 99 73 98 73 98 74 97 74 97 75 94 75 94 74 93 74 93 73 92 73 92 70 93 70 93 69 94 69ZM94 70V73H97V70ZM96 67 99 67 99 68 100 68 100 69 101 69 101 72 100 72 100 73 99 73 99 74 96 74 96 73 95 73 95 72 94 72 94 69 95 69 95 68 96 68ZM96 69V72H99V69ZM97 69 100 69 100 70 101 70 101 71 102 71 102 74 101 74 101 75 100 75 100 76 97 76 97 75 96 75 96 74 95 74 95 71 96 71 96 70 97 70ZM97 71V74H100V71ZM97 71 100 71 100 72 101 72 101 73 102 73 102 76 101 76 101 77 100 77 100 78 97 78 97 77 96 77 96 76 95 76 95 73 96 73 96 72 97 72ZM97 73V76H100V73ZM98 70 101 70 101 71 102 71 102 72 103 72 103 75 102 75 102 76 101 76 101 77 98 77 98 76 97 76 97 75 96 75 96 72 97 72 97 71 98 71ZM98 72V75H101V72ZM100 71 103 71 103 72 104 72 104 73 105 73 105 76 104 76 104 77 103 77 103 78 100 78 100 77 99 77 99 76 98 76 98 73 99 73 99 72 100 72ZM100 73V76H103V73ZM100 75 103 75 103 76 104 76 104 77 105 77 105 80 104 80 104 81 103 81 103 82 100 82 100 81 99 81 99 80 98 80 98 77 99 77 99 76 100 76ZM100 77V80H103V77ZM102 75 105 75 105 76 106 76 106 77 107 77 107 80 106 80 106 81 105 81 105 82 102 82 102 81 101 81 101 80 100 80 100 77 101 77 101 76 102 76ZM102 77V80H105V77ZM104 75 107 75 107 76 108 76 108 77 109 77 109 80 108 80 108 81 107 81 107 82 104 82 104 81 103 81 103 80 102 80 102 77 103 77 103 76 104 76ZM104 77V80H107V77ZM107 75 110 75 110 76 111 76 111 77 112 77 112 80 111 80 111 81 110 81 110 82 107 82 107 81 106 81 106 80 105 80 105 77 106 77 106 76 107 76ZM107 77V80H110V77ZM108 77 111 77 111 78 112 78 112 79 113 79 113 82 112 82 112 83 111 83 111 84 108 84 108 83 107 83 107 82 106 82 106 79 107 79 107 78 108 78ZM108 79V82H111V79ZM111 77 114 77 114 78 115 78 115 79 116 79 116 82 115 82 115 83 114 83 114 84 111 84 111 83 110 83 110 82 109 82 109 79 110 79 110 78 111 78ZM111 79V82H114V79ZM111 78 114 78 114 79 115 79 115 80 116 80 116 83 115 83 115 84 114 84 114 85 111 85 111 84 110 84 110 83 109 83 109 80 110 80 110 79 111 79ZM111 80V83H114V80ZM114 78 117 78 117 79 118 79 118 80 119 80 119 83 118 83 118 84 117 84 117 85 114 85 114 84 113 84 113 83 112 83 112 80 113 80 113 79 114 79ZM114 80V83H117V80ZM115 80 118 80 118 81 119 81 119 82 120 82 120 85 119 85 119 86 118 86 118 87 115 87 115 86 114 86 114 85 113 85 113 82 114 82 114 81 115 81ZM115 82V85H118V82ZM118 80 121 80 121 81 122 81 122 82 123 82 123 85 122 85 122 86 121 86 121 87 118 87 118 86 117 86 117 85 116 85 116 82 117 82 117 81 118 81ZM118 82V85H121V82ZM135 82 138 82 138 83 139 83 139 84 140 84 140 87 139 87 139 88 138 88 138 89 135 89 135 88 134 88 134 87 133 87 133 84 134 84 134 83 135 83ZM135 84V87H138V84ZM252 90 255 90 255 91 256 91 256 92 257 92 257 95 256 95 256 96 255 96 255 97 252 97 252 96 251 96 251 95 250 95 250 92 251 92 251 91 252 91ZM252 92V95H255V92ZM548 168 551 168 551 169 552 169 552 170 553 170 553 173 552 173 552 174 551 174 551 175 548 175 548 174 547 174 547 173 546 173 546 170 547 170 547 169 548 169ZM548 170V173H551V170ZM549 168 552 168 552 169 553 169 553 170 554 170 554 173 553 173 553 174 552 174 552 175 549 175 549 174 548 174 548 173 547 173 547 170 548 170 548 169 549 169ZM549 170V173H552V170ZM551 168 554 168 554 169 555 169 555 170 556 170 556 173 555 173 555 174 554 174 554 175 551 175 551 174 550 174 550 173 549 173 549 170 550 170 550 169 551 169ZM551 170V173H554V170ZM552 169 555 169 555 170 556 170 556 171 557 171 557 174 556 174 556 175 555 175 555 176 552 176 552 175 551 175 551 174 550 174 550 171 551 171 551 170 552 170ZM552 171V174H555V171ZM554 169 557 169 557 170 558 170 558 171 559 171 559 174 558 174 558 175 557 175 557 176 554 176 554 175 553 175 553 174 552 174 552 171 553 171 553 170 554 170ZM554 171V174H557V171ZM555 169 558 169 558 170 559 170 559 171 560 171 560 174 559 174 559 175 558 175 558 176 555 176 555 175 554 175 554 174 553 174 553 171 554 171 554 170 555 170ZM555 171V174H558V171ZM555 171 558 171 558 172 559 172 559 173 560 173 560 176 559 176 559 177 558 177 558 178 555 178 555 177 554 177 554 176 553 176 553 173 554 173 554 172 555 172ZM555 173V176H558V173ZM555 174 558 174 558 175 559 175 559 176 560 176 560 179 559 179 559 180 558 180 558 181 555 181 555 180 554 180 554 179 553 179 553 176 554 176 554 175 555 175ZM555 176V179H558V176ZM556 174 559 174 559 175 560 175 560 176 561 176 561 179 560 179 560 180 559 180 559 181 556 181 556 180 555 180 555 179 554 179 554 176 555 176 555 175 556 175ZM556 176V179H559V176ZM557 179 560 179 560 180 561 180 561 181 562 181 562 184 561 184 561 185 560 185 560 186 557 186 557 185 556 185 556 184 555 184 555 181 556 181 556 180 557 180ZM557 181V184H560V181ZM559 179 562 179 562 180 563 180 563 181 564 181 564 184 563 184 563 185 562 185 562 186 559 186 559 185 558 185 558 184 557 184 557 181 558 181 558 180 559 180ZM559 181V184H562V181ZM560 179 563 179 563 180 564 180 564 181 565 181 565 184 564 184 564 185 563 185 563 186 560 186 560 185 559 185 559 184 558 184 558 181 559 181 559 180 560 180ZM560 181V184H563V181ZM563 179 566 179 566 180 567 180 567 181 568 181 568 184 567 184 567 185 566 185 566 186 563 186 563 185 562 185 562 184 561 184 561 181 562 181 562 180 563 180ZM563 181V184H566V181ZM566 179 569 179 569 180 570 180 570 181 571 181 571 184 570 184 570 185 569 185 569 186 566 186 566 185 565 185 565 184 564 184 564 181 565 181 565 180 566 180ZM566 181V184H569V181ZM569 179 572 179 572 180 573 180 573 181 574 181 574 184 573 184 573 185 572 185 572 186 569 186 569 185 568 185 568 184 567 184 567 181 568 181 568 180 569 180ZM569 181V184H572V181ZM570 181 573 181 573 182 574 182 574 183 575 183 575 186 574 186 574 187 573 187 573 188 570 188 570 187 569 187 569 186 568 186 568 183 569 183 569 182 570 182ZM570 183V186H573V183ZM572 181 575 181 575 182 576 182 576 183 577 183 577 186 576 186 576 187 575 187 575 188 572 188 572 187 571 187 571 186 570 186 570 183 571 183 571 182 572 182ZM572 183V186H575V183ZM572 182 575 182 575 183 576 183 576 184 577 184 577 187 576 187 576 188 575 188 575 189 572 189 572 188 571 188 571 187 570 187 570 184 571 184 571 183 572 183ZM572 184V187H575V184ZM574 182 577 182 577 183 578 183 578 184 579 184 579 187 578 187 578 188 577 188 577 189 574 189 574 188 573 188 573 187 572 187 572 184 573 184 573 183 574 183ZM574 184V187H577V184ZM577 182 580 182 580 183 581 183 581 184 582 184 582 187 581 187 581 188 580 188 580 189 577 189 577 188 576 188 576 187 575 187 575 184 576 184 576 183 577 183ZM577 184V187H580V184ZM579 183 582 183 582 184 583 184 583 185 584 185 584 188 583 188 583 189 582 189 582 190 579 190 579 189 578 189 578 188 577 188 577 185 578 185 578 184 579 184ZM579 185V188H582V185ZM580 184 583 184 583 185 584 185 584 186 585 186 585 189 584 189 584 190 583 190 583 191 580 191 580 190 579 190 579 189 578 189 578 186 579 186 579 185 580 185ZM580 186V189H583V186ZM580 185 583 185 583 186 584 186 584 187 585 187 585 190 584 190 584 191 583 191 583 192 580 192 580 191 579 191 579 190 578 190 578 187 579 187 579 186 580 186ZM580 187V190H583V187ZM583 185 586 185 586 186 587 186 587 187 588 187 588 190 587 190 587 191 586 191 586 192 583 192 583 191 582 191 582 190 581 190 581 187 582 187 582 186 583 186ZM583 187V190H586V187ZM583 187 586 187 586 188 587 188 587 189 588 189 588 192 587 192 587 193 586 193 586 194 583 194 583 193 582 193 582 192 581 192 581 189 582 189 582 188 583 188ZM583 189V192H586V189ZM587 187 590 187 590 188 591 188 591 189 592 189 592 192 591 192 591 193 590 193 590 194 587 194 587 193 586 193 586 192 585 192 585 189 586 189 586 188 587 188ZM587 189V192H590V189ZM588 189 591 189 591 190 592 190 592 191 593 191 593 194 592 194 592 195 591 195 591 196 588 196 588 195 587 195 587 194 586 194 586 191 587 191 587 190 588 190ZM588 191V194H591V191ZM589 189 592 189 592 190 593 190 593 191 594 191 594 194 593 194 593 195 592 195 592 196 589 196 589 195 588 195 588 194 587 194 587 191 588 191 588 190 589 190ZM589 191V194H592V191ZM590 190 593 190 593 191 594 191 594 192 595 192 595 195 594 195 594 196 593 196 593 197 590 197 590 196 589 196 589 195 588 195 588 192 589 192 589 191 590 191ZM590 192V195H593V192ZM592 190 595 190 595 191 596 191 596 192 597 192 597 195 596 195 596 196 595 196 595 197 592 197 592 196 591 196 591 195 590 195 590 192 591 192 591 191 592 191ZM592 192V195H595V192ZM594 193 597 193 597 194 598 194 598 195 599 195 599 198 598 198 598 199 597 199 597 200 594 200 594 199 593 199 593 198 592 198 592 195 593 195 593 194 594 194ZM594 195V198H597V195ZM596 193 599 193 599 194 600 194 600 195 601 195 601 198 600 198 600 199 599 199 599 200 596 200 596 199 595 199 595 198 594 198 594 195 595 195 595 194 596 194ZM596 195V198H599V195ZM597 194 600 194 600 195 601 195 601 196 602 196 602 199 601 199 601 200 600 200 600 201 597 201 597 200 596 200 596 199 595 199 595 196 596 196 596 195 597 195ZM597 196V199H600V196ZM599 194 602 194 602 195 603 195 603 196 604 196 604 199 603 199 603 200 602 200 602 201 599 201 599 200 598 200 598 199 597 199 597 196 598 196 598 195 599 195ZM599 196V199H602V196ZM602 194 605 194 605 195 606 195 606 196 607 196 607 199 606 199 606 200 605 200 605 201 602 201 602 200 601 200 601 199 600 199 600 196 601 196 601 195 602 195ZM602 196V199H605V196ZM604 194 607 194 607 195 608 195 608 196 609 196 609 199 608 199 608 200 607 200 607 201 604 201 604 200 603 200 603 199 602 199 602 196 603 196 603 195 604 195ZM604 196V199H607V196ZM604 195 607 195 607 196 608 196 608 197 609 197 609 200 608 200 608 201 607 201 607 202 604 202 604 201 603 201 603 200 602 200 602 197 603 197 603 196 604 196ZM604 197V200H607V197ZM606 195 609 195 609 196 610 196 610 197 611 197 611 200 610 200 610 201 609 201 609 202 606 202 606 201 605 201 605 200 604 200 604 197 605 197 605 196 606 196ZM606 197V200H609V197ZM608 196 611 196 611 197 612 197 612 198 613 198 613 201 612 201 612 202 611 202 611 203 608 203 608 202 607 202 607 201 606 201 606 198 607 198 607 197 608 197ZM608 198V201H611V198ZM609 195 612 195 612 196 613 196 613 197 614 197 614 200 613 200 613 201 612 201 612 202 609 202 609 201 608 201 608 200 607 200 607 197 608 197 608 196 609 196ZM609 197V200H612V197ZM610 195 613 195 613 196 614 196 614 197 615 197 615 200 614 200 614 201 613 201 613 202 610 202 610 201 609 201 609 200 608 200 608 197 609 197 609 196 610 196ZM610 197V200H613V197ZM610 198 613 198 613 199 614 199 614 200 615 200 615 203 614 203 614 204 613 204 613 205 610 205 610 204 609 204 609 203 608 203 608 200 609 200 609 199 610 199ZM610 200V203H613V200ZM613 198 616 198 616 199 617 199 617 200 618 200 618 203 617 203 617 204 616 204 616 205 613 205 613 204 612 204 612 203 611 203 611 200 612 200 612 199 613 199ZM613 200V203H616V200ZM616 198 619 198 619 199 620 199 620 200 621 200 621 203 620 203 620 204 619 204 619 205 616 205 616 204 615 204 615 203 614 203 614 200 615 200 615 199 616 199ZM616 200V203H619V200ZM617 200 620 200 620 201 621 201 621 202 622 202 622 205 621 205 621 206 620 206 620 207 617 207 617 206 616 206 616 205 615 205 615 202 616 202 616 201 617 201ZM617 202V205H620V202ZM618 200 621 200 621 201 622 201 622 202 623 202 623 205 622 205 622 206 621 206 621 207 618 207 618 206 617 206 617 205 616 205 616 202 617 202 617 201 618 201ZM618 202V205H621V202ZM620 200 623 200 623 201 624 201 624 202 625 202 625 205 624 205 624 206 623 206 623 207 620 207 620 206 619 206 619 205 618 205 618 202 619 202 619 201 620 201ZM620 202V205H623V202ZM620 201 623 201 623 202 624 202 624 203 625 203 625 206 624 206 624 207 623 207 623 208 620 208 620 207 619 207 619 206 618 206 618 203 619 203 619 202 620 202ZM620 203V206H623V203ZM621 202 624 202 624 203 625 203 625 204 626 204 626 207 625 207 625 208 624 208 624 209 621 209 621 208 620 208 620 207 619 207 619 204 620 204 620 203 621 203ZM621 204V207H624V204ZM622 208 625 208 625 209 626 209 626 210 627 210 627 213 626 213 626 214 625 214 625 215 622 215 622 214 621 214 621 213 620 213 620 210 621 210 621 209 622 209ZM622 210V213H625V210ZM623 210 626 210 626 211 627 211 627 212 628 212 628 215 627 215 627 216 626 216 626 217 623 217 623 216 622 216 622 215 621 215 621 212 622 212 622 211 623 211ZM623 212V215H626V212ZM624 211 627 211 627 212 628 212 628 213 629 213 629 216 628 216 628 217 627 217 627 218 624 218 624 217 623 217 623 216 622 216 622 213 623 213 623 212 624 212ZM624 213V216H627V213ZM625 210 628 210 628 211 629 211 629 212 630 212 630 215 629 215 629 216 628 216 628 217 625 217 625 216 624 216 624 215 623 215 623 212 624 212 624 211 625 211ZM625 212V215H628V212ZM626 216 629 216 629 217 630 217 630 218 631 218 631 221 630 221 630 222 629 222 629 223 626 223 626 222 625 222 625 221 624 221 624 218 625 218 625 217 626 217ZM626 218V221H629V218ZM626 217 629 217 629 218 630 218 630 219 631 219 631 222 630 222 630 223 629 223 629 224 626 224 626 223 625 223 625 222 624 222 624 219 625 219 625 218 626 218ZM626 219V222H629V219ZM628 217 631 217 631 218 632 218 632 219 633 219 633 222 632 222 632 223 631 223 631 224 628 224 628 223 627 223 627 222 626 222 626 219 627 219 627 218 628 218ZM628 219V222H631V219ZM629 230 632 230 632 231 633 231 633 232 634 232 634 235 633 235 633 236 632 236 632 237 629 237 629 236 628 236 628 235 627 235 627 232 628 232 628 231 629 231ZM629 232V235H632V232ZM629 234 632 234 632 235 633 235 633 236 634 236 634 239 633 239 633 240 632 240 632 241 629 241 629 240 628 240 628 239 627 239 627 236 628 236 628 235 629 235ZM629 236V239H632V236ZM630 235 633 235 633 236 634 236 634 237 635 237 635 240 634 240 634 241 633 241 633 242 630 242 630 241 629 241 629 240 628 240 628 237 629 237 629 236 630 236ZM630 237V240H633V237ZM630 242 633 242 633 243 634 243 634 244 635 244 635 247 634 247 634 248 633 248 633 249 630 249 630 248 629 248 629 247 628 247 628 244 629 244 629 243 630 243ZM630 244V247H633V244ZM631 243 634 243 634 244 635 244 635 245 636 245 636 248 635 248 635 249 634 249 634 250 631 250 631 249 630 249 630 248 629 248 629 245 630 245 630 244 631 244ZM631 245V248H634V245ZM631 245 634 245 634 246 635 246 635 247 636 247 636 250 635 250 635 251 634 251 634 252 631 252 631 251 630 251 630 250 629 250 629 247 630 247 630 246 631 246ZM631 247V250H634V247ZM632 247 635 247 635 248 636 248 636 249 637 249 637 252 636 252 636 253 635 253 635 254 632 254 632 253 631 253 631 252 630 252 630 249 631 249 631 248 632 248ZM632 249V252H635V249ZM633 244 636 244 636 245 637 245 637 246 638 246 638 249 637 249 637 250 636 250 636 251 633 251 633 250 632 250 632 249 631 249 631 246 632 246 632 245 633 245ZM633 246V249H636V246ZM634 245 637 245 637 246 638 246 638 247 639 247 639 250 638 250 638 251 637 251 637 252 634 252 634 251 633 251 633 250 632 250 632 247 633 247 633 246 634 246ZM634 247V250H637V247ZM635 246 638 246 638 247 639 247 639 248 640 248 640 251 639 251 639 252 638 252 638 253 635 253 635 252 634 252 634 251 633 251 633 248 634 248 634 247 635 247ZM635 248V251H638V248ZM635 250 638 250 638 251 639 251 639 252 640 252 640 255 639 255 639 256 638 256 638 257 635 257 635 256 634 256 634 255 633 255 633 252 634 252 634 251 635 251ZM635 252V255H638V252ZM635 251 638 251 638 252 639 252 639 253 640 253 640 256 639 256 639 257 638 257 638 258 635 258 635 257 634 257 634 256 633 256 633 253 634 253 634 252 635 252ZM635 253V256H638V253ZM636 253 639 253 639 254 640 254 640 255 641 255 641 258 640 258 640 259 639 259 639 260 636 260 636 259 635 259 635 258 634 258 634 255 635 255 635 254 636 254ZM636 255V258H639V255ZM637 254 640 254 640 255 641 255 641 256 642 256 642 259 641 259 641 260 640 260 640 261 637 261 637 260 636 260 636 259 635 259 635 256 636 256 636 255 637 255ZM637 256V259H640V256ZM636 258 639 258 639 259 640 259 640 260 641 260 641 263 640 263 640 264 639 264 639 265 636 265 636 264 635 264 635 263 634 263 634 260 635 260 635 259 636 259ZM636 260V263H639V260ZM637 258 640 258 640 259 641 259 641 260 642 260 642 263 641 263 641 264 640 264 640 265 637 265 637 264 636 264 636 263 635 263 635 260 636 260 636 259 637 259ZM637 260V263H640V260ZM638 258 641 258 641 259 642 259 642 260 643 260 643 263 642 263 642 264 641 264 641 265 638 265 638 264 637 264 637 263 636 263 636 260 637 260 637 259 638 259ZM638 260V263H641V260ZM639 258 642 258 642 259 643 259 643 260 644 260 644 263 643 263 643 264 642 264 642 265 639 265 639 264 638 264 638 263 637 263 637 260 638 260 638 259 639 259ZM639 260V263H642V260ZM640 278 643 278 643 279 644 279 644 280 645 280 645 283 644 283 644 284 643 284 643 285 640 285 640 284 639 284 639 283 638 283 638 280 639 280 639 279 640 279ZM640 280V283H643V280ZM640 285 643 285 643 286 644 286 644 287 645 287 645 290 644 290 644 291 643 291 643 292 640 292 640 291 639 291 639 290 638 290 638 287 639 287 639 286 640 286ZM640 287V290H643V287ZM640 291 643 291 643 292 644 292 644 293 645 293 645 296 644 296 644 297 643 297 643 298 640 298 640 297 639 297 639 296 638 296 638 293 639 293 639 292 640 292ZM640 293V296H643V293ZM641 299 644 299 644 300 645 300 645 301 646 301 646 304 645 304 645 305 644 305 644 306 641 306 641 305 640 305 640 304 639 304 639 301 640 301 640 300 641 300ZM641 301V304H644V301ZM641 301 644 301 644 302 645 302 645 303 646 303 646 306 645 306 645 307 644 307 644 308 641 308 641 307 640 307 640 306 639 306 639 303 640 303 640 302 641 302ZM641 303V306H644V303ZM642 303 645 303 645 304 646 304 646 305 647 305 647 308 646 308 646 309 645 309 645 310 642 310 642 309 641 309 641 308 640 308 640 305 641 305 641 304 642 304ZM642 305V308H645V305ZM642 304 645 304 645 305 646 305 646 306 647 306 647 309 646 309 646 310 645 310 645 311 642 311 642 310 641 310 641 309 640 309 640 306 641 306 641 305 642 305ZM642 306V309H645V306ZM643 305 646 305 646 306 647 306 647 307 648 307 648 310 647 310 647 311 646 311 646 312 643 312 643 311 642 311 642 310 641 310 641 307 642 307 642 306 643 306ZM643 307V310H646V307ZM643 308 646 308 646 309 647 309 647 310 648 310 648 313 647 313 647 314 646 314 646 315 643 315 643 314 642 314 642 313 641 313 641 310 642 310 642 309 643 309ZM643 310V313H646V310ZM644 312 647 312 647 313 648 313 648 314 649 314 649 317 648 317 648 318 647 318 647 319 644 319 644 318 643 318 643 317 642 317 642 314 643 314 643 313 644 313ZM644 314V317H647V314ZM644 335 647 335 647 336 648 336 648 337 649 337 649 340 648 340 648 341 647 341 647 342 644 342 644 341 643 341 643 340 642 340 642 337 643 337 643 336 644 336ZM644 337V340H647V337ZM645 336 648 336 648 337 649 337 649 338 650 338 650 341 649 341 649 342 648 342 648 343 645 343 645 342 644 342 644 341 643 341 643 338 644 338 644 337 645 337ZM645 338V341H648V338ZM645 340 648 340 648 341 649 341 649 342 650 342 650 345 649 345 649 346 648 346 648 347 645 347 645 346 644 346 644 345 643 345 643 342 644 342 644 341 645 341ZM645 342V345H648V342ZM646 342 649 342 649 343 650 343 650 344 651 344 651 347 650 347 650 348 649 348 649 349 646 349 646 348 645 348 645 347 644 347 644 344 645 344 645 343 646 343ZM646 344V347H649V344ZM646 343 649 343 649 344 650 344 650 345 651 345 651 348 650 348 650 349 649 349 649 350 646 350 646 349 645 349 645 348 644 348 644 345 645 345 645 344 646 344ZM646 345V348H649V345ZM647 344 650 344 650 345 651 345 651 346 652 346 652 349 651 349 651 350 650 350 650 351 647 351 647 350 646 350 646 349 645 349 645 346 646 346 646 345 647 345ZM647 346V349H650V346ZM647 354 650 354 650 355 651 355 651 356 652 356 652 359 651 359 651 360 650 360 650 361 647 361 647 360 646 360 646 359 645 359 645 356 646 356 646 355 647 355ZM647 356V359H650V356ZM648 358 651 358 651 359 652 359 652 360 653 360 653 363 652 363 652 364 651 364 651 365 648 365 648 364 647 364 647 363 646 363 646 360 647 360 647 359 648 359ZM648 360V363H651V360ZM648 420 651 420 651 421 652 421 652 422 653 422 653 425 652 425 652 426 651 426 651 427 648 427 648 426 647 426 647 425 646 425 646 422 647 422 647 421 648 421ZM648 422V425H651V422ZM649 425 652 425 652 426 653 426 653 427 654 427 654 430 653 430 653 431 652 431 652 432 649 432 649 431 648 431 648 430 647 430 647 427 648 427 648 426 649 426ZM649 427V430H652V427ZM649 444 652 444 652 445 653 445 653 446 654 446 654 449 653 449 653 450 652 450 652 451 649 451 649 450 648 450 648 449 647 449 647 446 648 446 648 445 649 445ZM649 446V449H652V446ZM650 445 653 445 653 446 654 446 654 447 655 447 655 450 654 450 654 451 653 451 653 452 650 452 650 451 649 451 649 450 648 450 648 447 649 447 649 446 650 446ZM650 447V450H653V447Z" fill="#000"/>
<rect x="95" y="450" width="557" height="2" fill="#00ff00"/>
<rect x="94" y="41" width="559" height="1" fill="#000"/><rect x="94" y="481" width="559" height="1" fill="#000"/><rect x="94" y="41" width="1" height="441" fill="#000"/><rect x="652" y="41" width="1" height="441" fill="#000"/><rect x="94" y="475" width="1" height="6" fill="#000"/><rect x="94" y="42" width="1" height="5" fill="#000"/><rect x="185" y="475" width="1" height="6" fill="#000"/><rect x="185" y="42" width="1" height="5" fill="#000"/><rect x="276" y="475" width="1" height="6" fill="#000"/><rect x="276" y="42" width="1" height="5" fill="#000"/><rect x="368" y="475" width="1" height="6" fill="#000"/><rect x="368" y="42" width="1" height="5" fill="#000"/><rect x="459" y="475" width="1" height="6" fill="#000"/><rect x="459" y="42" width="1" height="5" fill="#000"/><rect x="551" y="475" width="1" height="6" fill="#000"/><rect x="551" y="42" width="1" height="5" fill="#000"/><rect x="642" y="475" width="1" height="6" fill="#000"/><rect x="642" y="42" width="1" height="5" fill="#000"/><rect x="95" y="84" width="5" height="1" fill="#000"/><rect x="646" y="84" width="6" height="1" fill="#000"/><rect x="95" y="144" width="5" height="1" fill="#000"/><rect x="646" y="144" width="6" height="1" fill="#000"/><rect x="95" y="204" width="5" height="1" fill="#000"/><rect x="646" y="204" width="6" height="1" fill="#000"/><rect x="95" y="263" width="5" height="1" fill="#000"/><rect x="646" y="263" width="6" height="1" fill="#000"/><rect x="95" y="323" width="5" height="1" fill="#000"/><rect x="646" y="323" width="6" height="1" fill="#000"/><rect x="95" y="383" width="5" height="1" fill="#000"/><rect x="646" y="383" width="6" height="1" fill="#000"/><rect x="95" y="443" width="5" height="1" fill="#000"/><rect x="646" y="443" width="6" height="1" fill="#000"/>
<rect x="100" y="437" width="138" height="40" fill="#fff"/><rect x="100" y="437" width="138" height="1" fill="#000"/><rect x="100" y="476" width="138" height="1" fill="#000"/><rect x="100" y="437" width="1" height="40" fill="#000"/><rect x="237" y="437" width="1" height="40" fill="#000"/><rect x="107" y="464" width="38" height="2" fill="#00ff00"/>
<path d="M125 444 128 444 128 445 129 445 129 446 130 446 130 449 129 449 129 450 128 450 128 451 125 451 125 450 124 450 124 449 123 449 123 446 124 446 124 445 125 445ZM125 446V449H128V446Z" fill="#000"/>
<filter id="crisp" x="0" y="0" width="720" height="540" filterUnits="userSpaceOnUse"><feComponentTransfer><feFuncA type="discrete" tableValues="0 1 1"/></feComponentTransfer></filter>
<g font-family="'Liberation Sans', Arial, sans-serif" fill="#000" filter="url(#crisp)">
<text x="91.375" y="497" font-size="11">0</text><text x="175.000" y="497" font-size="11">2</text><text x="182.375" y="497" font-size="11">0</text><text x="189.375" y="497" font-size="11">0</text><text x="266.250" y="497" font-size="11">4</text><text x="273.375" y="497" font-size="11">0</text><text x="280.375" y="497" font-size="11">0</text><text x="358.125" y="497" font-size="11">6</text><text x="365.375" y="497" font-size="11">0</text><text x="372.375" y="497" font-size="11">0</text><text x="449.375" y="497" font-size="11">8</text><text x="456.375" y="497" font-size="11">0</text><text x="463.375" y="497" font-size="11">0</text><text x="537.125" y="497" font-size="11">1</text><text x="544.500" y="497" font-size="11">0</text><text x="551.500" y="497" font-size="11">0</text><text x="558.500" y="497" font-size="11">0</text><text x="628.125" y="497" font-size="11">1</text><text x="635.625" y="497" font-size="11">2</text><text x="642.500" y="497" font-size="11">0</text><text x="649.500" y="497" font-size="11">0</text><text x="63.125" y="89" font-size="11">1</text><text x="70.500" y="89" font-size="11">0</text><text x="76.750" y="80" font-size="8.6">0</text><text x="63.125" y="149" font-size="11">1</text><text x="70.500" y="149" font-size="11">0</text><text x="76.625" y="140" font-size="8.6">-</text><text x="80.375" y="140" font-size="8.6">2</text><text x="63.125" y="209" font-size="11">1</text><text x="70.500" y="209" font-size="11">0</text><text x="76.625" y="200" font-size="8.6">-</text><text x="80.250" y="200" font-size="8.6">4</text><text x="63.125" y="268" font-size="11">1</text><text x="70.500" y="268" font-size="11">0</text><text x="76.625" y="259" font-size="8.6">-</text><text x="80.375" y="259" font-size="8.6">6</text><text x="63.125" y="328" font-size="11">1</text><text x="70.500" y="328" font-size="11">0</text><text x="76.625" y="319" font-size="8.6">-</text><text x="80.375" y="319" font-size="8.6">8</text><text x="63.125" y="388" font-size="11">1</text><text x="70.500" y="388" font-size="11">0</text><text x="76.625" y="379" font-size="8.6">-</text><text x="79.875" y="379" font-size="8.6">1</text><text x="84.750" y="379" font-size="8.6">0</text><text x="63.125" y="448" font-size="11">1</text><text x="70.500" y="448" font-size="11">0</text><text x="76.625" y="439" font-size="8.6">-</text><text x="79.875" y="439" font-size="8.6">1</text><text x="84.750" y="439" font-size="8.6">2</text><text x="268.375 276.250 283.000 290.000 297.125 299.875 306.750 310.625 313.875 320.875 327.250 334.250 341.000 348.125 354.625 361.000 368.125 375.000 381.750 388.853 392.375 398.250 401.000 408.000 415.000 422.000 424.875 431.875 435.722 439.375 445.250 452.250 455.000 461.875 468.500" y="33" font-size="12.4">Sandia/fpga_dcop_24 singular values</text>
<text x="149.500 156.125 158.250 165.250 172.250 179.125 182.125 189.125 193.123 196.500 203.125 210.125 212.250 219.250 226.375" y="454" font-size="12">singular values</text><text x="149.000 152.250 159.250 162.125 169.125 173.125 180.125 187.125 193.125" y="472" font-size="12">tolerance</text>
</g>
</svg>
</body></html>
